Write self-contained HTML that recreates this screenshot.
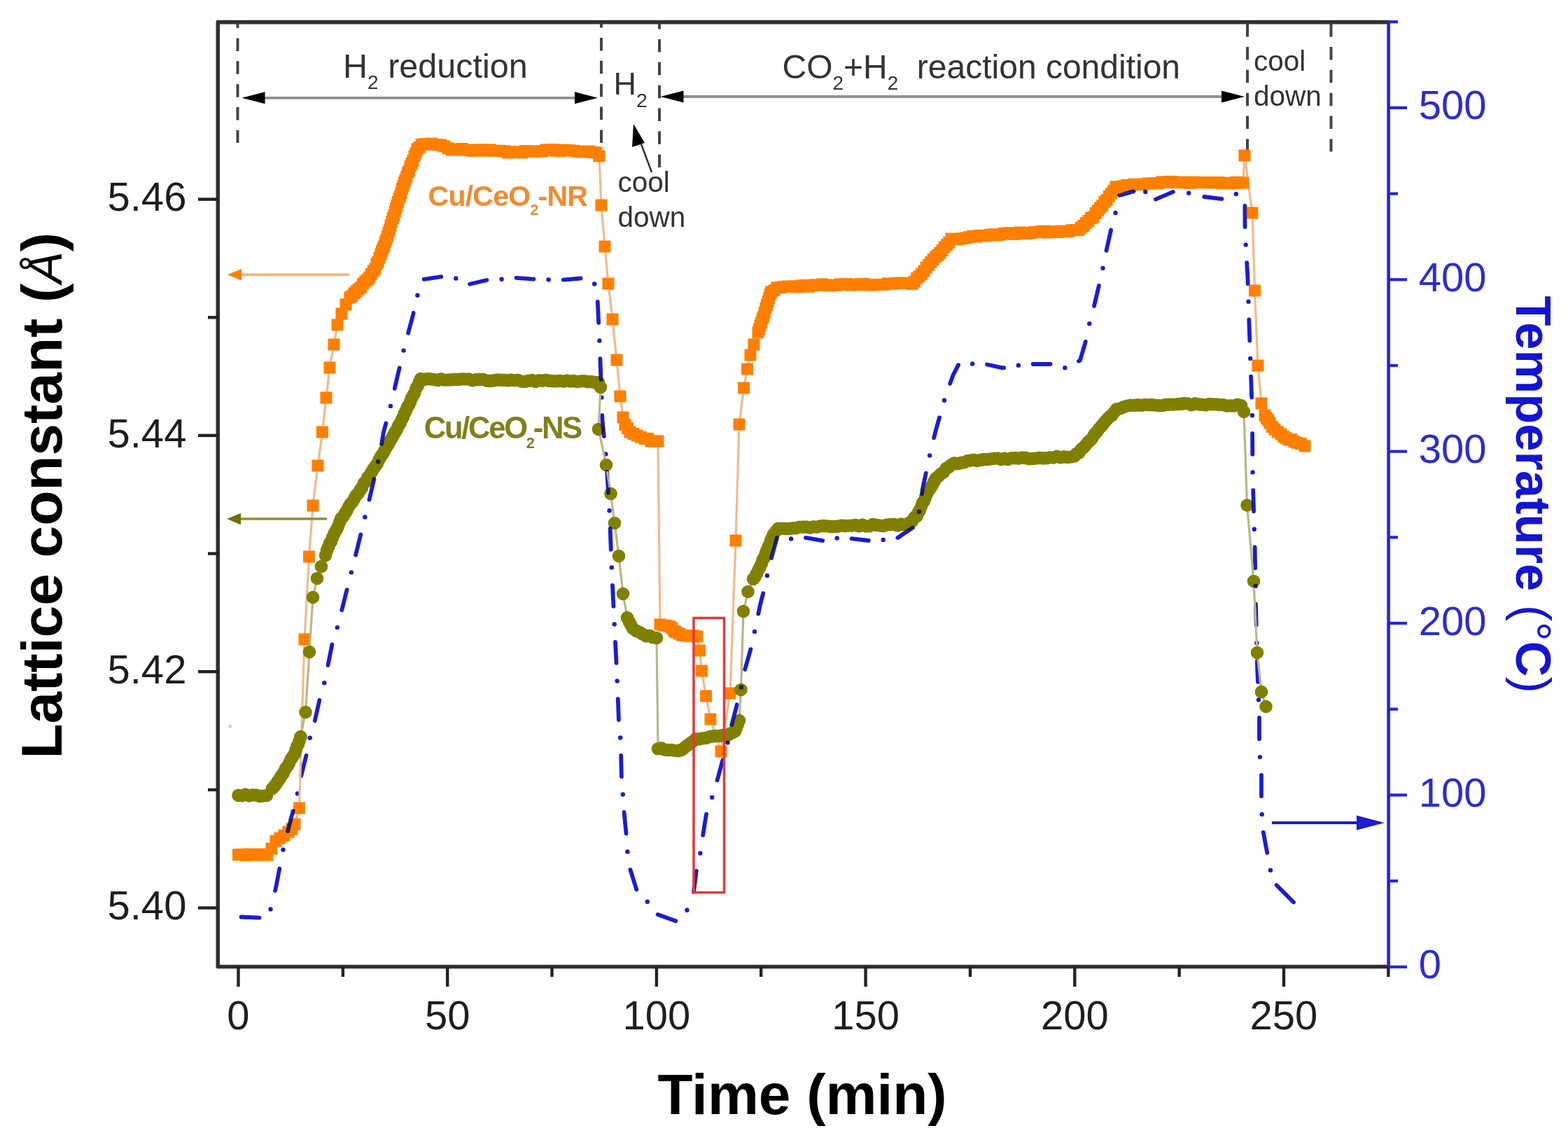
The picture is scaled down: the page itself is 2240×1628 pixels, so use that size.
<!DOCTYPE html>
<html><head><meta charset="utf-8"><title>Lattice constant vs time</title>
<style>html,body{margin:0;padding:0;background:#fff;}body{width:2240px;height:1628px;overflow:hidden;}svg{display:block;filter:blur(0.6px);}</style>
</head><body>
<svg width="2240" height="1628" viewBox="0 0 2240 1628"><rect width="2240" height="1628" fill="#ffffff"/><line x1="339.5" y1="33" x2="339.5" y2="204" stroke="#444" stroke-width="4" stroke-dasharray="18.5 14.4" stroke-dashoffset="11.5"/><line x1="859" y1="33" x2="859" y2="204" stroke="#444" stroke-width="4" stroke-dasharray="18.5 14.4" stroke-dashoffset="12"/><line x1="942" y1="33" x2="942" y2="241" stroke="#444" stroke-width="4" stroke-dasharray="18.5 14.4" stroke-dashoffset="10"/><line x1="1782" y1="34" x2="1782" y2="216.5" stroke="#444" stroke-width="4" stroke-dasharray="18.5 14.4" stroke-dashoffset="0"/><line x1="1901.5" y1="34" x2="1901.5" y2="216.5" stroke="#444" stroke-width="4" stroke-dasharray="18.5 14.4" stroke-dashoffset="0"/><line x1="376.5" y1="139.8" x2="823" y2="139.8" stroke="#8f8f8f" stroke-width="3.8"/><polygon points="854,139.8 821,131.3 821,148.3" fill="#000"/><polygon points="345.5,139.8 378.5,131.3 378.5,148.3" fill="#000"/><line x1="974.5" y1="138" x2="1747" y2="138" stroke="#8f8f8f" stroke-width="3.8"/><polygon points="1778,138 1745,129.5 1745,146.5" fill="#000"/><polygon points="943.5,138 976.5,129.5 976.5,146.5" fill="#000"/><line x1="931" y1="246" x2="912" y2="195" stroke="#333" stroke-width="2.5"/><polygon points="905,177 903,210 921,204" fill="#000"/><g fill="none" stroke="#1c1cd0" stroke-width="5.8" stroke-linecap="round" stroke-linejoin="round"><polyline points="344.6,1309.5 370.5,1310.6"/><polyline points="393.1,1271.9 394.6,1265.0 399.3,1240.5"/><polyline points="411.0,1187.0 418.7,1158.1"/><polyline points="430.2,1108.0 437.5,1078.9"/><polyline points="449.8,1029.2 456.4,999.8"/><polyline points="468.5,950.0 474.4,920.4"/><polyline points="488.3,871.3 495.6,842.2"/><polyline points="508.1,792.5 509.0,789.0 515.3,763.4"/><polyline points="527.5,713.6 534.4,684.3"/><polyline points="545.1,634.0 548.0,617.0 551.4,604.5"/><polyline points="563.8,554.8 566.0,545.0 570.7,525.5"/><polyline points="583.1,475.8 590.0,450.0 590.7,446.8"/><polyline points="605.6,398.8 630.3,395.1"/><polyline points="671.0,405.7 695.4,400.0"/><polyline points="737.6,396.8 762.4,398.6"/><polyline points="804.8,399.6 829.6,397.5"/><polyline points="853.8,431.0 855.2,460.9"/><polyline points="857.4,512.1 858.5,542.0"/><polyline points="860.3,593.2 860.5,600.0 862.8,623.0"/><polyline points="867.2,673.9 869.1,703.8"/><polyline points="871.7,754.9 872.8,784.8"/><polyline points="875.0,836.0 876.5,865.9"/><polyline points="879.0,917.0 880.5,946.9"/><polyline points="882.8,998.1 883.9,1028.0"/><polyline points="887.2,1079.0 887.9,1109.0"/><polyline points="891.6,1160.0 894.5,1190.3"/><polyline points="900.4,1241.9 909.3,1270.4"/><polyline points="939.7,1306.0 965.3,1315.3"/><polyline points="991.0,1273.9 994.8,1243.6"/><polyline points="1004.2,1192.7 1009.0,1162.7"/><polyline points="1024.6,1114.2 1032.5,1085.2"/><polyline points="1045.2,1035.4 1052.8,1006.3"/><polyline points="1064.2,956.0 1072.4,927.1"/><polyline points="1083.3,876.6 1085.7,865.0 1090.2,847.2"/><polyline points="1102.0,797.0 1110.0,768.1"/><polyline points="1151.0,767.9 1175.2,772.2"/><polyline points="1216.5,769.2 1240.9,772.0"/><polyline points="1282.4,768.0 1303.9,753.5"/><polyline points="1317.0,705.3 1318.0,698.0 1322.8,675.6"/><polyline points="1334.2,625.4 1337.0,614.0 1342.0,596.4"/><polyline points="1357.2,547.8 1361.6,535.7 1369.1,521.2"/><polyline points="1410.1,520.5 1432.0,525.4 1434.2,525.1"/><polyline points="1475.7,520.0 1500.6,520.0"/><polyline points="1541.0,515.7 1543.0,514.6 1550.8,487.9"/><polyline points="1563.0,437.0 1569.9,407.9"/><polyline points="1580.5,357.8 1587.1,328.5"/><polyline points="1599.4,279.0 1619.0,273.4 1619.1,273.4"/><polyline points="1651.0,284.7 1675.9,273.9"/><polyline points="1720.3,281.0 1745.4,284.2"/><polyline points="1778.4,294.0 1778.5,324.0"/><polyline points="1781.2,375.2 1782.4,395.7 1782.7,405.1"/><polyline points="1784.3,456.3 1785.0,476.8 1785.3,486.3"/><polyline points="1787.1,537.6 1788.1,567.5"/><polyline points="1789.1,618.8 1789.3,648.8"/><polyline points="1790.2,700.1 1791.1,730.1"/><polyline points="1792.6,781.3 1792.6,782.0 1793.1,811.3"/><polyline points="1794.0,862.6 1794.7,892.6"/><polyline points="1795.9,943.8 1796.0,950.0 1797.0,973.8"/><polyline points="1799.0,1025.0 1799.0,1055.3"/><polyline points="1802.0,1106.8 1802.0,1137.1"/><polyline points="1804.8,1188.6 1810.2,1217.8"/><polyline points="1823.6,1264.0 1848.0,1288.5"/></g><g fill="#1c1cd0"><circle cx="386.5" cy="1298.4" r="3.2"/><circle cx="404.5" cy="1213.5" r="3.2"/><circle cx="425.0" cy="1133.2" r="3.2"/><circle cx="442.7" cy="1053.7" r="3.2"/><circle cx="463.3" cy="975.3" r="3.2"/><circle cx="481.8" cy="896.1" r="3.2"/><circle cx="501.8" cy="817.4" r="3.2"/><circle cx="521.4" cy="738.5" r="3.2"/><circle cx="540.3" cy="659.3" r="3.2"/><circle cx="558.0" cy="579.9" r="3.2"/><circle cx="576.6" cy="500.6" r="3.2"/><circle cx="596.4" cy="421.8" r="3.2"/><circle cx="651.3" cy="397.5" r="3.2"/><circle cx="716.6" cy="398.8" r="3.2"/><circle cx="783.6" cy="399.5" r="3.2"/><circle cx="849.2" cy="405.5" r="3.2"/><circle cx="856.4" cy="486.5" r="3.2"/><circle cx="859.4" cy="567.6" r="3.2"/><circle cx="865.4" cy="648.4" r="3.2"/><circle cx="870.6" cy="729.3" r="3.2"/><circle cx="873.8" cy="810.4" r="3.2"/><circle cx="877.7" cy="891.5" r="3.2"/><circle cx="881.7" cy="972.5" r="3.2"/><circle cx="886.2" cy="1053.5" r="3.2"/><circle cx="889.8" cy="1134.5" r="3.2"/><circle cx="896.4" cy="1216.3" r="3.2"/><circle cx="924.8" cy="1287.8" r="3.2"/><circle cx="981.4" cy="1299.7" r="3.2"/><circle cx="1000.4" cy="1218.5" r="3.2"/><circle cx="1017.3" cy="1138.7" r="3.2"/><circle cx="1039.5" cy="1060.6" r="3.2"/><circle cx="1058.9" cy="981.3" r="3.2"/><circle cx="1078.0" cy="901.9" r="3.2"/><circle cx="1095.9" cy="822.0" r="3.2"/><circle cx="1130.1" cy="769.4" r="3.2"/><circle cx="1195.7" cy="768.5" r="3.2"/><circle cx="1261.7" cy="770.9" r="3.2"/><circle cx="1313.0" cy="730.8" r="3.2"/><circle cx="1328.2" cy="650.4" r="3.2"/><circle cx="1349.0" cy="571.8" r="3.2"/><circle cx="1389.2" cy="519.5" r="3.2"/><circle cx="1454.9" cy="521.7" r="3.2"/><circle cx="1521.3" cy="525.3" r="3.2"/><circle cx="1556.3" cy="462.2" r="3.2"/><circle cx="1575.5" cy="382.9" r="3.2"/><circle cx="1593.5" cy="303.9" r="3.2"/><circle cx="1636.3" cy="274.0" r="3.2"/><circle cx="1698.2" cy="275.7" r="3.2"/><circle cx="1765.8" cy="277.0" r="3.2"/><circle cx="1779.7" cy="349.6" r="3.2"/><circle cx="1783.5" cy="430.7" r="3.2"/><circle cx="1786.2" cy="511.9" r="3.2"/><circle cx="1788.9" cy="593.2" r="3.2"/><circle cx="1789.5" cy="674.4" r="3.2"/><circle cx="1791.8" cy="755.7" r="3.2"/><circle cx="1793.6" cy="836.9" r="3.2"/><circle cx="1795.3" cy="918.2" r="3.2"/><circle cx="1798.0" cy="999.4" r="3.2"/><circle cx="1799.9" cy="1081.1" r="3.2"/><circle cx="1802.7" cy="1162.9" r="3.2"/><circle cx="1815.0" cy="1242.7" r="3.2"/></g><polyline points="340.5,1220.6 345.7,1220.2 350.9,1221.4 356.1,1220.0 361.2,1221.1 366.4,1220.7 371.6,1219.9 376.8,1221.0 382.0,1221.0 388.0,1212.0 394.0,1201.0 400.0,1197.0 406.0,1193.0 412.0,1188.0 417.0,1184.0 421.0,1177.0 427.5,1154.0 435.0,913.0 441.5,795.0 447.0,722.0 454.0,665.0 460.5,617.0 466.0,568.0 471.0,525.0 477.0,492.0 482.0,464.0 488.0,448.0 494.0,435.0 500.0,424.9 503.0,422.8 506.0,419.0 509.0,416.0 512.2,413.2 515.4,410.6 518.6,405.3 521.8,401.9 525.0,399.3 527.8,396.1 530.5,391.2 533.2,386.8 536.0,384.1 538.0,377.2 540.0,374.4 542.0,368.2 544.0,363.1 545.6,358.7 547.2,354.7 548.8,351.6 550.4,345.6 552.0,342.2 553.5,337.6 555.0,332.2 556.5,327.9 558.0,322.0 559.7,316.6 561.3,311.6 563.0,307.4 564.3,302.2 565.7,297.2 567.0,293.2 568.5,288.4 570.0,283.5 571.5,280.2 573.0,275.5 574.5,269.6 576.0,265.7 577.5,260.8 579.0,256.9 580.8,252.2 582.6,246.7 584.4,244.0 586.2,237.5 588.0,233.8 590.0,229.6 592.0,223.2 594.0,219.0 596.0,212.9 599.0,210.4 602.0,206.6 607.0,205.7 612.0,205.9 616.5,205.1 621.0,206.5 625.5,206.7 630.0,207.2 635.0,208.9 640.0,211.8 645.0,214.1 650.0,213.1 655.0,213.8 660.0,212.5 665.0,214.2 670.0,214.3 675.0,215.3 680.0,215.0 685.0,213.9 690.0,214.4 695.0,215.2 700.0,213.9 705.2,215.4 710.3,215.2 715.5,215.6 720.7,215.9 725.8,218.1 731.0,217.1 735.8,217.1 740.7,217.1 745.5,217.9 750.3,215.7 755.2,216.2 760.0,216.1 765.0,216.6 770.0,216.1 775.0,215.9 780.0,214.1 785.0,214.1 790.0,213.7 795.0,215.3 800.0,215.8 805.0,214.2 810.0,214.6 815.0,215.0 820.0,215.4 825.3,216.3 830.7,216.9 836.0,216.4 841.3,216.1 846.7,217.5 852.0,218.0 856.0,223.0 859.0,293.0 864.0,352.0 869.0,405.0 875.0,456.0 881.0,514.0 886.0,566.0 890.0,596.0 893.0,606.7 896.5,611.7 900.0,617.1 905.0,619.5 910.0,622.0 915.5,624.3 921.0,626.4 925.5,626.4 930.0,630.0 935.0,630.2 940.0,630.0 943.0,891.9 947.7,893.0 952.3,893.4 957.0,894.8 960.0,897.0 963.0,901.3 966.0,902.9 970.5,905.0 975.0,907.3 980.5,907.7 986.0,908.6 991.0,907.9 996.0,909.0 999.5,929.0 1002.5,958.0 1008.5,994.0 1015.0,1027.0 1030.0,1073.0 1043.0,990.0 1051.0,772.0 1056.0,606.0 1062.5,554.0 1067.5,527.0 1072.0,507.0 1077.0,492.0 1083.0,474.8 1084.6,470.2 1086.1,465.0 1087.7,460.7 1089.3,454.9 1090.9,451.9 1092.4,446.3 1094.0,440.2 1095.6,435.4 1097.2,430.6 1098.8,425.7 1100.4,420.1 1102.0,416.8 1106.0,414.7 1110.0,410.9 1115.0,410.7 1120.0,409.4 1125.0,409.1 1130.0,409.4 1135.0,408.9 1140.0,409.9 1145.0,408.0 1150.0,407.4 1155.0,409.3 1160.0,408.0 1165.0,406.8 1170.0,407.4 1175.0,405.9 1179.9,407.0 1184.8,408.0 1189.8,407.6 1194.7,407.2 1199.6,406.0 1204.5,406.2 1209.5,405.7 1214.4,407.0 1219.3,406.4 1224.2,406.9 1229.2,405.7 1234.1,405.4 1239.0,406.7 1243.9,407.1 1248.8,406.7 1253.8,406.5 1258.7,406.5 1263.6,406.2 1268.5,404.9 1273.5,405.5 1278.4,405.0 1283.3,404.2 1288.2,404.1 1293.2,404.6 1298.1,404.5 1303.0,405.5 1306.4,402.3 1309.8,397.4 1313.1,394.8 1316.5,391.2 1319.9,387.3 1323.2,382.2 1326.6,378.1 1330.0,374.3 1333.2,370.6 1336.4,367.0 1339.7,364.3 1342.9,361.3 1346.1,357.5 1349.3,353.0 1352.6,349.7 1355.8,346.4 1359.0,341.0 1364.1,341.7 1369.2,341.7 1374.3,340.7 1379.4,339.9 1384.6,338.6 1389.7,337.2 1394.8,338.0 1399.9,336.3 1405.0,336.7 1409.8,336.8 1414.6,335.2 1419.4,334.9 1424.2,335.9 1429.0,335.0 1433.8,333.4 1438.6,333.0 1443.4,332.8 1448.2,334.3 1453.0,333.7 1457.9,331.9 1462.8,333.3 1467.7,333.5 1472.6,332.5 1477.4,331.5 1482.3,331.8 1487.2,330.6 1492.1,330.1 1497.0,332.1 1501.9,331.1 1506.8,330.6 1511.7,331.4 1516.6,330.0 1521.4,330.8 1526.3,330.4 1531.2,328.8 1536.1,328.6 1541.0,328.5 1544.5,325.0 1548.0,322.5 1551.5,318.4 1555.0,315.5 1558.5,311.4 1562.0,310.0 1565.2,304.5 1568.4,300.7 1571.6,296.9 1574.8,293.6 1578.0,288.3 1581.2,285.4 1584.4,280.3 1587.6,276.3 1590.8,272.2 1594.0,266.8 1599.2,267.1 1604.4,265.6 1609.6,264.4 1614.8,265.5 1620.0,263.2 1625.0,263.5 1630.0,263.7 1635.0,262.9 1640.0,262.0 1645.0,262.0 1650.0,261.7 1655.0,261.9 1660.0,259.9 1665.0,260.5 1670.0,259.4 1675.0,259.5 1680.1,260.7 1685.1,260.2 1690.2,260.3 1695.2,260.9 1700.3,261.3 1705.3,260.2 1710.4,260.7 1715.4,260.4 1720.5,260.5 1725.5,261.0 1730.6,260.5 1735.6,260.7 1740.7,260.6 1745.7,261.8 1750.8,261.2 1755.8,261.7 1760.9,261.9 1765.9,260.3 1771.0,261.1 1776.0,261.0 1778.0,222.0 1789.0,304.0 1792.5,415.0 1797.0,522.0 1802.0,576.0 1807.0,593.1 1809.3,597.1 1811.7,599.8 1814.0,604.1 1817.5,609.4 1821.0,613.0 1825.5,616.9 1830.0,620.0 1833.7,623.4 1837.3,625.7 1841.0,628.0 1845.0,627.8 1849.0,630.9 1853.0,632.4 1858.5,633.6 1864.0,637.0" fill="none" stroke="#f5b98a" stroke-width="3.2"/><g fill="#ff7f00"><rect x="332.0" y="1212.1" width="17" height="17"/><rect x="337.2" y="1211.7" width="17" height="17"/><rect x="342.4" y="1212.9" width="17" height="17"/><rect x="347.6" y="1211.5" width="17" height="17"/><rect x="352.8" y="1212.6" width="17" height="17"/><rect x="357.9" y="1212.2" width="17" height="17"/><rect x="363.1" y="1211.4" width="17" height="17"/><rect x="368.3" y="1212.5" width="17" height="17"/><rect x="373.5" y="1212.5" width="17" height="17"/><rect x="379.5" y="1203.5" width="17" height="17"/><rect x="385.5" y="1192.5" width="17" height="17"/><rect x="391.5" y="1188.5" width="17" height="17"/><rect x="397.5" y="1184.5" width="17" height="17"/><rect x="403.5" y="1179.5" width="17" height="17"/><rect x="408.5" y="1175.5" width="17" height="17"/><rect x="412.5" y="1168.5" width="17" height="17"/><rect x="419.0" y="1145.5" width="17" height="17"/><rect x="426.5" y="904.5" width="17" height="17"/><rect x="433.0" y="786.5" width="17" height="17"/><rect x="438.5" y="713.5" width="17" height="17"/><rect x="445.5" y="656.5" width="17" height="17"/><rect x="452.0" y="608.5" width="17" height="17"/><rect x="457.5" y="559.5" width="17" height="17"/><rect x="462.5" y="516.5" width="17" height="17"/><rect x="468.5" y="483.5" width="17" height="17"/><rect x="473.5" y="455.5" width="17" height="17"/><rect x="479.5" y="439.5" width="17" height="17"/><rect x="485.5" y="426.5" width="17" height="17"/><rect x="491.5" y="416.4" width="17" height="17"/><rect x="494.5" y="414.3" width="17" height="17"/><rect x="497.5" y="410.5" width="17" height="17"/><rect x="500.5" y="407.5" width="17" height="17"/><rect x="503.7" y="404.7" width="17" height="17"/><rect x="506.9" y="402.1" width="17" height="17"/><rect x="510.1" y="396.8" width="17" height="17"/><rect x="513.3" y="393.4" width="17" height="17"/><rect x="516.5" y="390.8" width="17" height="17"/><rect x="519.2" y="387.6" width="17" height="17"/><rect x="522.0" y="382.7" width="17" height="17"/><rect x="524.8" y="378.3" width="17" height="17"/><rect x="527.5" y="375.6" width="17" height="17"/><rect x="529.5" y="368.7" width="17" height="17"/><rect x="531.5" y="365.9" width="17" height="17"/><rect x="533.5" y="359.7" width="17" height="17"/><rect x="535.5" y="354.6" width="17" height="17"/><rect x="537.1" y="350.2" width="17" height="17"/><rect x="538.7" y="346.2" width="17" height="17"/><rect x="540.3" y="343.1" width="17" height="17"/><rect x="541.9" y="337.1" width="17" height="17"/><rect x="543.5" y="333.7" width="17" height="17"/><rect x="545.0" y="329.1" width="17" height="17"/><rect x="546.5" y="323.7" width="17" height="17"/><rect x="548.0" y="319.4" width="17" height="17"/><rect x="549.5" y="313.5" width="17" height="17"/><rect x="551.2" y="308.1" width="17" height="17"/><rect x="552.8" y="303.1" width="17" height="17"/><rect x="554.5" y="298.9" width="17" height="17"/><rect x="555.8" y="293.7" width="17" height="17"/><rect x="557.2" y="288.7" width="17" height="17"/><rect x="558.5" y="284.7" width="17" height="17"/><rect x="560.0" y="279.9" width="17" height="17"/><rect x="561.5" y="275.0" width="17" height="17"/><rect x="563.0" y="271.7" width="17" height="17"/><rect x="564.5" y="267.0" width="17" height="17"/><rect x="566.0" y="261.1" width="17" height="17"/><rect x="567.5" y="257.2" width="17" height="17"/><rect x="569.0" y="252.3" width="17" height="17"/><rect x="570.5" y="248.4" width="17" height="17"/><rect x="572.3" y="243.7" width="17" height="17"/><rect x="574.1" y="238.2" width="17" height="17"/><rect x="575.9" y="235.5" width="17" height="17"/><rect x="577.7" y="229.0" width="17" height="17"/><rect x="579.5" y="225.3" width="17" height="17"/><rect x="581.5" y="221.1" width="17" height="17"/><rect x="583.5" y="214.7" width="17" height="17"/><rect x="585.5" y="210.5" width="17" height="17"/><rect x="587.5" y="204.4" width="17" height="17"/><rect x="590.5" y="201.9" width="17" height="17"/><rect x="593.5" y="198.1" width="17" height="17"/><rect x="598.5" y="197.2" width="17" height="17"/><rect x="603.5" y="197.4" width="17" height="17"/><rect x="608.0" y="196.6" width="17" height="17"/><rect x="612.5" y="198.0" width="17" height="17"/><rect x="617.0" y="198.2" width="17" height="17"/><rect x="621.5" y="198.7" width="17" height="17"/><rect x="626.5" y="200.4" width="17" height="17"/><rect x="631.5" y="203.3" width="17" height="17"/><rect x="636.5" y="205.6" width="17" height="17"/><rect x="641.5" y="204.6" width="17" height="17"/><rect x="646.5" y="205.3" width="17" height="17"/><rect x="651.5" y="204.0" width="17" height="17"/><rect x="656.5" y="205.7" width="17" height="17"/><rect x="661.5" y="205.8" width="17" height="17"/><rect x="666.5" y="206.8" width="17" height="17"/><rect x="671.5" y="206.5" width="17" height="17"/><rect x="676.5" y="205.4" width="17" height="17"/><rect x="681.5" y="205.9" width="17" height="17"/><rect x="686.5" y="206.7" width="17" height="17"/><rect x="691.5" y="205.4" width="17" height="17"/><rect x="696.7" y="206.9" width="17" height="17"/><rect x="701.8" y="206.7" width="17" height="17"/><rect x="707.0" y="207.1" width="17" height="17"/><rect x="712.2" y="207.4" width="17" height="17"/><rect x="717.3" y="209.6" width="17" height="17"/><rect x="722.5" y="208.6" width="17" height="17"/><rect x="727.3" y="208.6" width="17" height="17"/><rect x="732.2" y="208.6" width="17" height="17"/><rect x="737.0" y="209.4" width="17" height="17"/><rect x="741.8" y="207.2" width="17" height="17"/><rect x="746.7" y="207.7" width="17" height="17"/><rect x="751.5" y="207.6" width="17" height="17"/><rect x="756.5" y="208.1" width="17" height="17"/><rect x="761.5" y="207.6" width="17" height="17"/><rect x="766.5" y="207.4" width="17" height="17"/><rect x="771.5" y="205.6" width="17" height="17"/><rect x="776.5" y="205.6" width="17" height="17"/><rect x="781.5" y="205.2" width="17" height="17"/><rect x="786.5" y="206.8" width="17" height="17"/><rect x="791.5" y="207.3" width="17" height="17"/><rect x="796.5" y="205.7" width="17" height="17"/><rect x="801.5" y="206.1" width="17" height="17"/><rect x="806.5" y="206.5" width="17" height="17"/><rect x="811.5" y="206.9" width="17" height="17"/><rect x="816.8" y="207.8" width="17" height="17"/><rect x="822.2" y="208.4" width="17" height="17"/><rect x="827.5" y="207.9" width="17" height="17"/><rect x="832.8" y="207.6" width="17" height="17"/><rect x="838.2" y="209.0" width="17" height="17"/><rect x="843.5" y="209.5" width="17" height="17"/><rect x="847.5" y="214.5" width="17" height="17"/><rect x="850.5" y="284.5" width="17" height="17"/><rect x="855.5" y="343.5" width="17" height="17"/><rect x="860.5" y="396.5" width="17" height="17"/><rect x="866.5" y="447.5" width="17" height="17"/><rect x="872.5" y="505.5" width="17" height="17"/><rect x="877.5" y="557.5" width="17" height="17"/><rect x="881.5" y="587.5" width="17" height="17"/><rect x="884.5" y="598.2" width="17" height="17"/><rect x="888.0" y="603.2" width="17" height="17"/><rect x="891.5" y="608.6" width="17" height="17"/><rect x="896.5" y="611.0" width="17" height="17"/><rect x="901.5" y="613.5" width="17" height="17"/><rect x="907.0" y="615.8" width="17" height="17"/><rect x="912.5" y="617.9" width="17" height="17"/><rect x="917.0" y="617.9" width="17" height="17"/><rect x="921.5" y="621.5" width="17" height="17"/><rect x="926.5" y="621.7" width="17" height="17"/><rect x="931.5" y="621.5" width="17" height="17"/><rect x="934.5" y="883.4" width="17" height="17"/><rect x="939.2" y="884.5" width="17" height="17"/><rect x="943.8" y="884.9" width="17" height="17"/><rect x="948.5" y="886.3" width="17" height="17"/><rect x="951.5" y="888.5" width="17" height="17"/><rect x="954.5" y="892.8" width="17" height="17"/><rect x="957.5" y="894.4" width="17" height="17"/><rect x="962.0" y="896.5" width="17" height="17"/><rect x="966.5" y="898.8" width="17" height="17"/><rect x="972.0" y="899.2" width="17" height="17"/><rect x="977.5" y="900.1" width="17" height="17"/><rect x="982.5" y="899.4" width="17" height="17"/><rect x="987.5" y="900.5" width="17" height="17"/><rect x="991.0" y="920.5" width="17" height="17"/><rect x="994.0" y="949.5" width="17" height="17"/><rect x="1000.0" y="985.5" width="17" height="17"/><rect x="1006.5" y="1018.5" width="17" height="17"/><rect x="1021.5" y="1064.5" width="17" height="17"/><rect x="1034.5" y="981.5" width="17" height="17"/><rect x="1042.5" y="763.5" width="17" height="17"/><rect x="1047.5" y="597.5" width="17" height="17"/><rect x="1054.0" y="545.5" width="17" height="17"/><rect x="1059.0" y="518.5" width="17" height="17"/><rect x="1063.5" y="498.5" width="17" height="17"/><rect x="1068.5" y="483.5" width="17" height="17"/><rect x="1074.5" y="466.3" width="17" height="17"/><rect x="1076.1" y="461.7" width="17" height="17"/><rect x="1077.6" y="456.5" width="17" height="17"/><rect x="1079.2" y="452.2" width="17" height="17"/><rect x="1080.8" y="446.4" width="17" height="17"/><rect x="1082.4" y="443.4" width="17" height="17"/><rect x="1083.9" y="437.8" width="17" height="17"/><rect x="1085.5" y="431.7" width="17" height="17"/><rect x="1087.1" y="426.9" width="17" height="17"/><rect x="1088.7" y="422.1" width="17" height="17"/><rect x="1090.3" y="417.2" width="17" height="17"/><rect x="1091.9" y="411.6" width="17" height="17"/><rect x="1093.5" y="408.3" width="17" height="17"/><rect x="1097.5" y="406.2" width="17" height="17"/><rect x="1101.5" y="402.4" width="17" height="17"/><rect x="1106.5" y="402.2" width="17" height="17"/><rect x="1111.5" y="400.9" width="17" height="17"/><rect x="1116.5" y="400.6" width="17" height="17"/><rect x="1121.5" y="400.9" width="17" height="17"/><rect x="1126.5" y="400.4" width="17" height="17"/><rect x="1131.5" y="401.4" width="17" height="17"/><rect x="1136.5" y="399.5" width="17" height="17"/><rect x="1141.5" y="398.9" width="17" height="17"/><rect x="1146.5" y="400.8" width="17" height="17"/><rect x="1151.5" y="399.5" width="17" height="17"/><rect x="1156.5" y="398.3" width="17" height="17"/><rect x="1161.5" y="398.9" width="17" height="17"/><rect x="1166.5" y="397.4" width="17" height="17"/><rect x="1171.4" y="398.5" width="17" height="17"/><rect x="1176.3" y="399.5" width="17" height="17"/><rect x="1181.3" y="399.1" width="17" height="17"/><rect x="1186.2" y="398.7" width="17" height="17"/><rect x="1191.1" y="397.5" width="17" height="17"/><rect x="1196.0" y="397.7" width="17" height="17"/><rect x="1201.0" y="397.2" width="17" height="17"/><rect x="1205.9" y="398.5" width="17" height="17"/><rect x="1210.8" y="397.9" width="17" height="17"/><rect x="1215.7" y="398.4" width="17" height="17"/><rect x="1220.7" y="397.2" width="17" height="17"/><rect x="1225.6" y="396.9" width="17" height="17"/><rect x="1230.5" y="398.2" width="17" height="17"/><rect x="1235.4" y="398.6" width="17" height="17"/><rect x="1240.3" y="398.2" width="17" height="17"/><rect x="1245.3" y="398.0" width="17" height="17"/><rect x="1250.2" y="398.0" width="17" height="17"/><rect x="1255.1" y="397.7" width="17" height="17"/><rect x="1260.0" y="396.4" width="17" height="17"/><rect x="1265.0" y="397.0" width="17" height="17"/><rect x="1269.9" y="396.5" width="17" height="17"/><rect x="1274.8" y="395.7" width="17" height="17"/><rect x="1279.7" y="395.6" width="17" height="17"/><rect x="1284.7" y="396.1" width="17" height="17"/><rect x="1289.6" y="396.0" width="17" height="17"/><rect x="1294.5" y="397.0" width="17" height="17"/><rect x="1297.9" y="393.8" width="17" height="17"/><rect x="1301.2" y="388.9" width="17" height="17"/><rect x="1304.6" y="386.3" width="17" height="17"/><rect x="1308.0" y="382.7" width="17" height="17"/><rect x="1311.4" y="378.8" width="17" height="17"/><rect x="1314.8" y="373.7" width="17" height="17"/><rect x="1318.1" y="369.6" width="17" height="17"/><rect x="1321.5" y="365.8" width="17" height="17"/><rect x="1324.7" y="362.1" width="17" height="17"/><rect x="1327.9" y="358.5" width="17" height="17"/><rect x="1331.2" y="355.8" width="17" height="17"/><rect x="1334.4" y="352.8" width="17" height="17"/><rect x="1337.6" y="349.0" width="17" height="17"/><rect x="1340.8" y="344.5" width="17" height="17"/><rect x="1344.1" y="341.2" width="17" height="17"/><rect x="1347.3" y="337.9" width="17" height="17"/><rect x="1350.5" y="332.5" width="17" height="17"/><rect x="1355.6" y="333.2" width="17" height="17"/><rect x="1360.7" y="333.2" width="17" height="17"/><rect x="1365.8" y="332.2" width="17" height="17"/><rect x="1370.9" y="331.4" width="17" height="17"/><rect x="1376.1" y="330.1" width="17" height="17"/><rect x="1381.2" y="328.7" width="17" height="17"/><rect x="1386.3" y="329.5" width="17" height="17"/><rect x="1391.4" y="327.8" width="17" height="17"/><rect x="1396.5" y="328.2" width="17" height="17"/><rect x="1401.3" y="328.3" width="17" height="17"/><rect x="1406.1" y="326.7" width="17" height="17"/><rect x="1410.9" y="326.4" width="17" height="17"/><rect x="1415.7" y="327.4" width="17" height="17"/><rect x="1420.5" y="326.5" width="17" height="17"/><rect x="1425.3" y="324.9" width="17" height="17"/><rect x="1430.1" y="324.5" width="17" height="17"/><rect x="1434.9" y="324.3" width="17" height="17"/><rect x="1439.7" y="325.8" width="17" height="17"/><rect x="1444.5" y="325.2" width="17" height="17"/><rect x="1449.4" y="323.4" width="17" height="17"/><rect x="1454.3" y="324.8" width="17" height="17"/><rect x="1459.2" y="325.0" width="17" height="17"/><rect x="1464.1" y="324.0" width="17" height="17"/><rect x="1468.9" y="323.0" width="17" height="17"/><rect x="1473.8" y="323.3" width="17" height="17"/><rect x="1478.7" y="322.1" width="17" height="17"/><rect x="1483.6" y="321.6" width="17" height="17"/><rect x="1488.5" y="323.6" width="17" height="17"/><rect x="1493.4" y="322.6" width="17" height="17"/><rect x="1498.3" y="322.1" width="17" height="17"/><rect x="1503.2" y="322.9" width="17" height="17"/><rect x="1508.1" y="321.5" width="17" height="17"/><rect x="1512.9" y="322.3" width="17" height="17"/><rect x="1517.8" y="321.9" width="17" height="17"/><rect x="1522.7" y="320.3" width="17" height="17"/><rect x="1527.6" y="320.1" width="17" height="17"/><rect x="1532.5" y="320.0" width="17" height="17"/><rect x="1536.0" y="316.5" width="17" height="17"/><rect x="1539.5" y="314.0" width="17" height="17"/><rect x="1543.0" y="309.9" width="17" height="17"/><rect x="1546.5" y="307.0" width="17" height="17"/><rect x="1550.0" y="302.9" width="17" height="17"/><rect x="1553.5" y="301.5" width="17" height="17"/><rect x="1556.7" y="296.0" width="17" height="17"/><rect x="1559.9" y="292.2" width="17" height="17"/><rect x="1563.1" y="288.4" width="17" height="17"/><rect x="1566.3" y="285.1" width="17" height="17"/><rect x="1569.5" y="279.8" width="17" height="17"/><rect x="1572.7" y="276.9" width="17" height="17"/><rect x="1575.9" y="271.8" width="17" height="17"/><rect x="1579.1" y="267.8" width="17" height="17"/><rect x="1582.3" y="263.7" width="17" height="17"/><rect x="1585.5" y="258.3" width="17" height="17"/><rect x="1590.7" y="258.6" width="17" height="17"/><rect x="1595.9" y="257.1" width="17" height="17"/><rect x="1601.1" y="255.9" width="17" height="17"/><rect x="1606.3" y="257.0" width="17" height="17"/><rect x="1611.5" y="254.7" width="17" height="17"/><rect x="1616.5" y="255.0" width="17" height="17"/><rect x="1621.5" y="255.2" width="17" height="17"/><rect x="1626.5" y="254.4" width="17" height="17"/><rect x="1631.5" y="253.5" width="17" height="17"/><rect x="1636.5" y="253.5" width="17" height="17"/><rect x="1641.5" y="253.2" width="17" height="17"/><rect x="1646.5" y="253.4" width="17" height="17"/><rect x="1651.5" y="251.4" width="17" height="17"/><rect x="1656.5" y="252.0" width="17" height="17"/><rect x="1661.5" y="250.9" width="17" height="17"/><rect x="1666.5" y="251.0" width="17" height="17"/><rect x="1671.6" y="252.2" width="17" height="17"/><rect x="1676.6" y="251.7" width="17" height="17"/><rect x="1681.7" y="251.8" width="17" height="17"/><rect x="1686.7" y="252.4" width="17" height="17"/><rect x="1691.8" y="252.8" width="17" height="17"/><rect x="1696.8" y="251.7" width="17" height="17"/><rect x="1701.9" y="252.2" width="17" height="17"/><rect x="1706.9" y="251.9" width="17" height="17"/><rect x="1712.0" y="252.0" width="17" height="17"/><rect x="1717.0" y="252.5" width="17" height="17"/><rect x="1722.1" y="252.0" width="17" height="17"/><rect x="1727.1" y="252.2" width="17" height="17"/><rect x="1732.2" y="252.1" width="17" height="17"/><rect x="1737.2" y="253.3" width="17" height="17"/><rect x="1742.3" y="252.7" width="17" height="17"/><rect x="1747.3" y="253.2" width="17" height="17"/><rect x="1752.4" y="253.4" width="17" height="17"/><rect x="1757.4" y="251.8" width="17" height="17"/><rect x="1762.5" y="252.6" width="17" height="17"/><rect x="1767.5" y="252.5" width="17" height="17"/><rect x="1769.5" y="213.5" width="17" height="17"/><rect x="1780.5" y="295.5" width="17" height="17"/><rect x="1784.0" y="406.5" width="17" height="17"/><rect x="1788.5" y="513.5" width="17" height="17"/><rect x="1793.5" y="567.5" width="17" height="17"/><rect x="1798.5" y="584.6" width="17" height="17"/><rect x="1800.8" y="588.6" width="17" height="17"/><rect x="1803.2" y="591.3" width="17" height="17"/><rect x="1805.5" y="595.6" width="17" height="17"/><rect x="1809.0" y="600.9" width="17" height="17"/><rect x="1812.5" y="604.5" width="17" height="17"/><rect x="1817.0" y="608.4" width="17" height="17"/><rect x="1821.5" y="611.5" width="17" height="17"/><rect x="1825.2" y="614.9" width="17" height="17"/><rect x="1828.8" y="617.2" width="17" height="17"/><rect x="1832.5" y="619.5" width="17" height="17"/><rect x="1836.5" y="619.3" width="17" height="17"/><rect x="1840.5" y="622.4" width="17" height="17"/><rect x="1844.5" y="623.9" width="17" height="17"/><rect x="1850.0" y="625.1" width="17" height="17"/><rect x="1855.5" y="628.5" width="17" height="17"/></g><polyline points="340.5,1135.9 345.6,1136.2 350.6,1134.6 355.7,1136.5 360.8,1135.3 365.8,1135.6 370.9,1136.9 375.9,1136.7 381.0,1136.0 389.0,1126.2 391.8,1123.1 394.5,1119.5 397.2,1115.4 400.0,1111.3 402.6,1107.2 405.2,1103.7 407.8,1097.6 410.4,1094.5 413.0,1089.9 415.7,1084.2 418.3,1080.3 421.0,1076.3 422.7,1071.2 424.4,1065.4 426.1,1062.8 427.8,1057.5 429.5,1052.0 436.5,1017.0 442.0,931.0 447.0,853.0 453.0,826.0 459.0,809.0 465.0,793.1 467.0,786.1 469.0,781.4 471.0,775.9 473.1,773.2 475.1,767.4 477.2,762.6 479.2,758.8 481.3,755.5 483.4,750.8 485.4,744.9 487.5,740.2 490.2,737.9 492.9,732.9 495.6,729.1 498.2,723.5 500.9,719.3 503.6,716.7 506.3,711.9 509.0,707.0 511.7,704.8 514.4,699.9 517.2,696.1 519.9,690.1 522.6,687.7 525.3,681.6 528.1,679.3 530.8,674.1 533.5,669.6 536.2,665.8 538.9,662.3 541.6,656.3 544.2,651.6 546.9,648.2 549.6,643.1 552.3,638.4 555.0,634.2 557.4,629.5 559.8,625.5 562.1,621.4 564.5,617.0 566.9,613.7 569.2,608.2 571.6,604.4 574.0,599.2 576.0,595.3 578.0,590.1 580.0,586.3 582.0,581.3 584.0,578.7 586.0,573.9 588.0,568.6 590.0,564.9 592.2,561.2 594.4,554.5 596.6,551.4 598.8,545.6 601.0,541.0 605.9,541.9 610.8,541.0 615.6,541.4 620.5,542.0 625.4,542.8 630.2,541.4 635.1,542.7 640.0,542.5 645.0,542.4 650.0,541.9 655.0,541.9 660.0,541.3 665.0,541.5 670.0,541.5 675.0,543.2 680.0,542.1 685.0,541.9 690.0,541.8 695.0,543.7 700.0,543.9 705.0,543.5 710.0,542.6 715.0,542.6 720.0,542.8 725.0,543.2 730.0,542.6 735.0,543.3 740.0,542.9 745.0,544.7 750.0,544.8 755.0,543.8 760.0,543.1 765.0,544.9 770.0,543.4 775.0,543.6 780.0,542.8 785.0,543.8 790.0,544.2 795.0,544.4 800.0,543.8 805.0,544.7 810.0,543.6 815.0,544.4 820.0,544.1 825.0,545.0 830.0,544.2 835.0,544.3 840.0,545.1 845.0,545.1 850.0,546.1 855.0,546.0 858.0,553.0 855.0,613.0 866.0,664.0 872.5,705.0 878.0,747.0 884.0,794.0 890.0,848.0 896.0,882.1 898.7,887.6 901.3,892.4 904.0,897.5 908.7,900.9 913.3,902.7 918.0,905.6 923.0,908.4 928.0,907.7 933.0,910.3 938.0,911.0 940.0,1069.3 944.7,1068.3 949.4,1070.7 954.1,1071.2 958.9,1071.0 963.6,1071.7 968.3,1072.3 973.0,1071.1 976.3,1069.1 979.7,1066.0 983.0,1063.8 986.7,1061.1 990.3,1058.5 994.0,1055.2 998.8,1055.4 1003.7,1054.4 1008.5,1054.0 1013.3,1052.4 1018.2,1051.4 1023.0,1051.1 1028.0,1051.0 1033.0,1049.7 1038.0,1050.8 1042.0,1048.1 1046.0,1046.3 1050.0,1044.3 1052.0,1039.4 1054.0,1034.0 1056.0,1029.0 1058.5,985.0 1062.0,873.0 1068.5,845.0 1076.0,826.8 1078.5,824.0 1081.0,819.1 1083.5,813.8 1086.0,809.1 1087.9,805.0 1089.8,799.2 1091.7,796.4 1093.6,790.8 1095.5,786.0 1097.4,781.4 1099.3,777.6 1101.2,771.3 1103.1,767.6 1105.0,763.1 1108.5,758.5 1112.0,754.7 1117.0,754.7 1122.0,755.0 1127.0,755.0 1132.0,754.4 1137.0,754.2 1142.0,752.7 1147.0,752.6 1152.0,752.6 1157.0,753.6 1162.0,752.3 1167.0,752.7 1172.0,751.2 1177.0,751.1 1182.0,751.3 1187.0,752.1 1192.0,751.9 1197.0,751.6 1202.0,750.5 1207.0,750.9 1212.0,750.7 1217.0,750.6 1222.0,749.7 1227.0,751.4 1232.0,749.6 1237.0,751.4 1242.0,751.2 1247.0,748.9 1252.0,749.8 1257.0,750.6 1262.0,750.9 1267.0,749.5 1272.0,749.0 1277.0,748.7 1282.0,750.4 1287.0,748.5 1292.0,749.3 1297.0,748.1 1300.2,745.8 1303.5,743.6 1306.8,738.4 1310.0,736.8 1312.0,731.7 1314.0,728.4 1316.0,723.6 1318.0,718.2 1320.0,715.5 1322.0,710.3 1324.0,704.9 1326.6,700.4 1329.2,697.2 1331.8,692.7 1334.4,687.9 1337.0,683.1 1340.7,680.1 1344.3,676.6 1348.0,674.3 1351.7,668.8 1355.3,667.1 1359.0,663.8 1363.6,661.2 1368.1,662.3 1372.7,660.9 1377.3,660.5 1381.9,658.2 1386.4,657.6 1391.0,656.7 1395.9,658.0 1400.8,656.8 1405.7,656.1 1410.6,656.0 1415.5,655.5 1420.4,654.7 1425.3,654.6 1430.2,656.2 1435.1,654.7 1440.0,656.0 1445.0,654.2 1450.0,654.1 1455.0,654.6 1460.0,653.6 1465.0,653.9 1470.0,655.1 1475.0,654.8 1480.0,654.5 1485.0,653.9 1490.0,654.4 1495.0,654.3 1500.0,653.2 1505.0,653.5 1510.0,651.7 1515.0,653.2 1520.0,652.4 1525.0,652.9 1530.0,652.5 1535.0,651.5 1538.2,647.7 1541.4,646.6 1544.6,641.5 1547.8,639.1 1551.0,635.6 1554.1,631.7 1557.3,628.9 1560.4,625.6 1563.6,620.0 1566.7,617.1 1569.9,612.4 1573.0,609.1 1576.1,605.3 1579.3,601.3 1582.4,597.9 1585.6,594.6 1588.7,592.8 1591.9,588.4 1595.0,584.3 1600.0,583.5 1605.0,581.2 1610.1,579.7 1615.2,578.8 1620.3,578.8 1625.4,578.4 1630.6,578.8 1635.7,578.0 1640.8,578.2 1645.9,578.1 1651.0,578.7 1656.1,579.3 1661.2,578.8 1666.3,577.8 1671.4,577.6 1676.6,577.7 1681.7,577.2 1686.8,576.9 1691.9,576.1 1697.0,576.5 1702.1,578.3 1707.1,576.4 1712.2,577.4 1717.3,577.8 1722.3,578.5 1727.4,577.1 1732.5,577.4 1737.5,577.5 1742.6,578.0 1747.7,578.2 1752.7,579.6 1757.8,579.4 1762.9,579.6 1767.9,577.7 1773.0,579.0 1777.0,588.0 1781.5,721.5 1791.0,830.0 1796.0,932.0 1802.0,988.0 1808.5,1009.0" fill="none" stroke="#b8b884" stroke-width="3.2"/><g fill="#808000"><circle cx="340.5" cy="1135.9" r="9.3"/><circle cx="345.6" cy="1136.2" r="9.3"/><circle cx="350.6" cy="1134.6" r="9.3"/><circle cx="355.7" cy="1136.5" r="9.3"/><circle cx="360.8" cy="1135.3" r="9.3"/><circle cx="365.8" cy="1135.6" r="9.3"/><circle cx="370.9" cy="1136.9" r="9.3"/><circle cx="375.9" cy="1136.7" r="9.3"/><circle cx="381.0" cy="1136.0" r="9.3"/><circle cx="389.0" cy="1126.2" r="9.3"/><circle cx="391.8" cy="1123.1" r="9.3"/><circle cx="394.5" cy="1119.5" r="9.3"/><circle cx="397.2" cy="1115.4" r="9.3"/><circle cx="400.0" cy="1111.3" r="9.3"/><circle cx="402.6" cy="1107.2" r="9.3"/><circle cx="405.2" cy="1103.7" r="9.3"/><circle cx="407.8" cy="1097.6" r="9.3"/><circle cx="410.4" cy="1094.5" r="9.3"/><circle cx="413.0" cy="1089.9" r="9.3"/><circle cx="415.7" cy="1084.2" r="9.3"/><circle cx="418.3" cy="1080.3" r="9.3"/><circle cx="421.0" cy="1076.3" r="9.3"/><circle cx="422.7" cy="1071.2" r="9.3"/><circle cx="424.4" cy="1065.4" r="9.3"/><circle cx="426.1" cy="1062.8" r="9.3"/><circle cx="427.8" cy="1057.5" r="9.3"/><circle cx="429.5" cy="1052.0" r="9.3"/><circle cx="436.5" cy="1017.0" r="9.3"/><circle cx="442.0" cy="931.0" r="9.3"/><circle cx="447.0" cy="853.0" r="9.3"/><circle cx="453.0" cy="826.0" r="9.3"/><circle cx="459.0" cy="809.0" r="9.3"/><circle cx="465.0" cy="793.1" r="9.3"/><circle cx="467.0" cy="786.1" r="9.3"/><circle cx="469.0" cy="781.4" r="9.3"/><circle cx="471.0" cy="775.9" r="9.3"/><circle cx="473.1" cy="773.2" r="9.3"/><circle cx="475.1" cy="767.4" r="9.3"/><circle cx="477.2" cy="762.6" r="9.3"/><circle cx="479.2" cy="758.8" r="9.3"/><circle cx="481.3" cy="755.5" r="9.3"/><circle cx="483.4" cy="750.8" r="9.3"/><circle cx="485.4" cy="744.9" r="9.3"/><circle cx="487.5" cy="740.2" r="9.3"/><circle cx="490.2" cy="737.9" r="9.3"/><circle cx="492.9" cy="732.9" r="9.3"/><circle cx="495.6" cy="729.1" r="9.3"/><circle cx="498.2" cy="723.5" r="9.3"/><circle cx="500.9" cy="719.3" r="9.3"/><circle cx="503.6" cy="716.7" r="9.3"/><circle cx="506.3" cy="711.9" r="9.3"/><circle cx="509.0" cy="707.0" r="9.3"/><circle cx="511.7" cy="704.8" r="9.3"/><circle cx="514.4" cy="699.9" r="9.3"/><circle cx="517.2" cy="696.1" r="9.3"/><circle cx="519.9" cy="690.1" r="9.3"/><circle cx="522.6" cy="687.7" r="9.3"/><circle cx="525.3" cy="681.6" r="9.3"/><circle cx="528.1" cy="679.3" r="9.3"/><circle cx="530.8" cy="674.1" r="9.3"/><circle cx="533.5" cy="669.6" r="9.3"/><circle cx="536.2" cy="665.8" r="9.3"/><circle cx="538.9" cy="662.3" r="9.3"/><circle cx="541.6" cy="656.3" r="9.3"/><circle cx="544.2" cy="651.6" r="9.3"/><circle cx="546.9" cy="648.2" r="9.3"/><circle cx="549.6" cy="643.1" r="9.3"/><circle cx="552.3" cy="638.4" r="9.3"/><circle cx="555.0" cy="634.2" r="9.3"/><circle cx="557.4" cy="629.5" r="9.3"/><circle cx="559.8" cy="625.5" r="9.3"/><circle cx="562.1" cy="621.4" r="9.3"/><circle cx="564.5" cy="617.0" r="9.3"/><circle cx="566.9" cy="613.7" r="9.3"/><circle cx="569.2" cy="608.2" r="9.3"/><circle cx="571.6" cy="604.4" r="9.3"/><circle cx="574.0" cy="599.2" r="9.3"/><circle cx="576.0" cy="595.3" r="9.3"/><circle cx="578.0" cy="590.1" r="9.3"/><circle cx="580.0" cy="586.3" r="9.3"/><circle cx="582.0" cy="581.3" r="9.3"/><circle cx="584.0" cy="578.7" r="9.3"/><circle cx="586.0" cy="573.9" r="9.3"/><circle cx="588.0" cy="568.6" r="9.3"/><circle cx="590.0" cy="564.9" r="9.3"/><circle cx="592.2" cy="561.2" r="9.3"/><circle cx="594.4" cy="554.5" r="9.3"/><circle cx="596.6" cy="551.4" r="9.3"/><circle cx="598.8" cy="545.6" r="9.3"/><circle cx="601.0" cy="541.0" r="9.3"/><circle cx="605.9" cy="541.9" r="9.3"/><circle cx="610.8" cy="541.0" r="9.3"/><circle cx="615.6" cy="541.4" r="9.3"/><circle cx="620.5" cy="542.0" r="9.3"/><circle cx="625.4" cy="542.8" r="9.3"/><circle cx="630.2" cy="541.4" r="9.3"/><circle cx="635.1" cy="542.7" r="9.3"/><circle cx="640.0" cy="542.5" r="9.3"/><circle cx="645.0" cy="542.4" r="9.3"/><circle cx="650.0" cy="541.9" r="9.3"/><circle cx="655.0" cy="541.9" r="9.3"/><circle cx="660.0" cy="541.3" r="9.3"/><circle cx="665.0" cy="541.5" r="9.3"/><circle cx="670.0" cy="541.5" r="9.3"/><circle cx="675.0" cy="543.2" r="9.3"/><circle cx="680.0" cy="542.1" r="9.3"/><circle cx="685.0" cy="541.9" r="9.3"/><circle cx="690.0" cy="541.8" r="9.3"/><circle cx="695.0" cy="543.7" r="9.3"/><circle cx="700.0" cy="543.9" r="9.3"/><circle cx="705.0" cy="543.5" r="9.3"/><circle cx="710.0" cy="542.6" r="9.3"/><circle cx="715.0" cy="542.6" r="9.3"/><circle cx="720.0" cy="542.8" r="9.3"/><circle cx="725.0" cy="543.2" r="9.3"/><circle cx="730.0" cy="542.6" r="9.3"/><circle cx="735.0" cy="543.3" r="9.3"/><circle cx="740.0" cy="542.9" r="9.3"/><circle cx="745.0" cy="544.7" r="9.3"/><circle cx="750.0" cy="544.8" r="9.3"/><circle cx="755.0" cy="543.8" r="9.3"/><circle cx="760.0" cy="543.1" r="9.3"/><circle cx="765.0" cy="544.9" r="9.3"/><circle cx="770.0" cy="543.4" r="9.3"/><circle cx="775.0" cy="543.6" r="9.3"/><circle cx="780.0" cy="542.8" r="9.3"/><circle cx="785.0" cy="543.8" r="9.3"/><circle cx="790.0" cy="544.2" r="9.3"/><circle cx="795.0" cy="544.4" r="9.3"/><circle cx="800.0" cy="543.8" r="9.3"/><circle cx="805.0" cy="544.7" r="9.3"/><circle cx="810.0" cy="543.6" r="9.3"/><circle cx="815.0" cy="544.4" r="9.3"/><circle cx="820.0" cy="544.1" r="9.3"/><circle cx="825.0" cy="545.0" r="9.3"/><circle cx="830.0" cy="544.2" r="9.3"/><circle cx="835.0" cy="544.3" r="9.3"/><circle cx="840.0" cy="545.1" r="9.3"/><circle cx="845.0" cy="545.1" r="9.3"/><circle cx="850.0" cy="546.1" r="9.3"/><circle cx="855.0" cy="546.0" r="9.3"/><circle cx="858.0" cy="553.0" r="9.3"/><circle cx="855.0" cy="613.0" r="9.3"/><circle cx="866.0" cy="664.0" r="9.3"/><circle cx="872.5" cy="705.0" r="9.3"/><circle cx="878.0" cy="747.0" r="9.3"/><circle cx="884.0" cy="794.0" r="9.3"/><circle cx="890.0" cy="848.0" r="9.3"/><circle cx="896.0" cy="882.1" r="9.3"/><circle cx="898.7" cy="887.6" r="9.3"/><circle cx="901.3" cy="892.4" r="9.3"/><circle cx="904.0" cy="897.5" r="9.3"/><circle cx="908.7" cy="900.9" r="9.3"/><circle cx="913.3" cy="902.7" r="9.3"/><circle cx="918.0" cy="905.6" r="9.3"/><circle cx="923.0" cy="908.4" r="9.3"/><circle cx="928.0" cy="907.7" r="9.3"/><circle cx="933.0" cy="910.3" r="9.3"/><circle cx="938.0" cy="911.0" r="9.3"/><circle cx="940.0" cy="1069.3" r="9.3"/><circle cx="944.7" cy="1068.3" r="9.3"/><circle cx="949.4" cy="1070.7" r="9.3"/><circle cx="954.1" cy="1071.2" r="9.3"/><circle cx="958.9" cy="1071.0" r="9.3"/><circle cx="963.6" cy="1071.7" r="9.3"/><circle cx="968.3" cy="1072.3" r="9.3"/><circle cx="973.0" cy="1071.1" r="9.3"/><circle cx="976.3" cy="1069.1" r="9.3"/><circle cx="979.7" cy="1066.0" r="9.3"/><circle cx="983.0" cy="1063.8" r="9.3"/><circle cx="986.7" cy="1061.1" r="9.3"/><circle cx="990.3" cy="1058.5" r="9.3"/><circle cx="994.0" cy="1055.2" r="9.3"/><circle cx="998.8" cy="1055.4" r="9.3"/><circle cx="1003.7" cy="1054.4" r="9.3"/><circle cx="1008.5" cy="1054.0" r="9.3"/><circle cx="1013.3" cy="1052.4" r="9.3"/><circle cx="1018.2" cy="1051.4" r="9.3"/><circle cx="1023.0" cy="1051.1" r="9.3"/><circle cx="1028.0" cy="1051.0" r="9.3"/><circle cx="1033.0" cy="1049.7" r="9.3"/><circle cx="1038.0" cy="1050.8" r="9.3"/><circle cx="1042.0" cy="1048.1" r="9.3"/><circle cx="1046.0" cy="1046.3" r="9.3"/><circle cx="1050.0" cy="1044.3" r="9.3"/><circle cx="1052.0" cy="1039.4" r="9.3"/><circle cx="1054.0" cy="1034.0" r="9.3"/><circle cx="1056.0" cy="1029.0" r="9.3"/><circle cx="1058.5" cy="985.0" r="9.3"/><circle cx="1062.0" cy="873.0" r="9.3"/><circle cx="1068.5" cy="845.0" r="9.3"/><circle cx="1076.0" cy="826.8" r="9.3"/><circle cx="1078.5" cy="824.0" r="9.3"/><circle cx="1081.0" cy="819.1" r="9.3"/><circle cx="1083.5" cy="813.8" r="9.3"/><circle cx="1086.0" cy="809.1" r="9.3"/><circle cx="1087.9" cy="805.0" r="9.3"/><circle cx="1089.8" cy="799.2" r="9.3"/><circle cx="1091.7" cy="796.4" r="9.3"/><circle cx="1093.6" cy="790.8" r="9.3"/><circle cx="1095.5" cy="786.0" r="9.3"/><circle cx="1097.4" cy="781.4" r="9.3"/><circle cx="1099.3" cy="777.6" r="9.3"/><circle cx="1101.2" cy="771.3" r="9.3"/><circle cx="1103.1" cy="767.6" r="9.3"/><circle cx="1105.0" cy="763.1" r="9.3"/><circle cx="1108.5" cy="758.5" r="9.3"/><circle cx="1112.0" cy="754.7" r="9.3"/><circle cx="1117.0" cy="754.7" r="9.3"/><circle cx="1122.0" cy="755.0" r="9.3"/><circle cx="1127.0" cy="755.0" r="9.3"/><circle cx="1132.0" cy="754.4" r="9.3"/><circle cx="1137.0" cy="754.2" r="9.3"/><circle cx="1142.0" cy="752.7" r="9.3"/><circle cx="1147.0" cy="752.6" r="9.3"/><circle cx="1152.0" cy="752.6" r="9.3"/><circle cx="1157.0" cy="753.6" r="9.3"/><circle cx="1162.0" cy="752.3" r="9.3"/><circle cx="1167.0" cy="752.7" r="9.3"/><circle cx="1172.0" cy="751.2" r="9.3"/><circle cx="1177.0" cy="751.1" r="9.3"/><circle cx="1182.0" cy="751.3" r="9.3"/><circle cx="1187.0" cy="752.1" r="9.3"/><circle cx="1192.0" cy="751.9" r="9.3"/><circle cx="1197.0" cy="751.6" r="9.3"/><circle cx="1202.0" cy="750.5" r="9.3"/><circle cx="1207.0" cy="750.9" r="9.3"/><circle cx="1212.0" cy="750.7" r="9.3"/><circle cx="1217.0" cy="750.6" r="9.3"/><circle cx="1222.0" cy="749.7" r="9.3"/><circle cx="1227.0" cy="751.4" r="9.3"/><circle cx="1232.0" cy="749.6" r="9.3"/><circle cx="1237.0" cy="751.4" r="9.3"/><circle cx="1242.0" cy="751.2" r="9.3"/><circle cx="1247.0" cy="748.9" r="9.3"/><circle cx="1252.0" cy="749.8" r="9.3"/><circle cx="1257.0" cy="750.6" r="9.3"/><circle cx="1262.0" cy="750.9" r="9.3"/><circle cx="1267.0" cy="749.5" r="9.3"/><circle cx="1272.0" cy="749.0" r="9.3"/><circle cx="1277.0" cy="748.7" r="9.3"/><circle cx="1282.0" cy="750.4" r="9.3"/><circle cx="1287.0" cy="748.5" r="9.3"/><circle cx="1292.0" cy="749.3" r="9.3"/><circle cx="1297.0" cy="748.1" r="9.3"/><circle cx="1300.2" cy="745.8" r="9.3"/><circle cx="1303.5" cy="743.6" r="9.3"/><circle cx="1306.8" cy="738.4" r="9.3"/><circle cx="1310.0" cy="736.8" r="9.3"/><circle cx="1312.0" cy="731.7" r="9.3"/><circle cx="1314.0" cy="728.4" r="9.3"/><circle cx="1316.0" cy="723.6" r="9.3"/><circle cx="1318.0" cy="718.2" r="9.3"/><circle cx="1320.0" cy="715.5" r="9.3"/><circle cx="1322.0" cy="710.3" r="9.3"/><circle cx="1324.0" cy="704.9" r="9.3"/><circle cx="1326.6" cy="700.4" r="9.3"/><circle cx="1329.2" cy="697.2" r="9.3"/><circle cx="1331.8" cy="692.7" r="9.3"/><circle cx="1334.4" cy="687.9" r="9.3"/><circle cx="1337.0" cy="683.1" r="9.3"/><circle cx="1340.7" cy="680.1" r="9.3"/><circle cx="1344.3" cy="676.6" r="9.3"/><circle cx="1348.0" cy="674.3" r="9.3"/><circle cx="1351.7" cy="668.8" r="9.3"/><circle cx="1355.3" cy="667.1" r="9.3"/><circle cx="1359.0" cy="663.8" r="9.3"/><circle cx="1363.6" cy="661.2" r="9.3"/><circle cx="1368.1" cy="662.3" r="9.3"/><circle cx="1372.7" cy="660.9" r="9.3"/><circle cx="1377.3" cy="660.5" r="9.3"/><circle cx="1381.9" cy="658.2" r="9.3"/><circle cx="1386.4" cy="657.6" r="9.3"/><circle cx="1391.0" cy="656.7" r="9.3"/><circle cx="1395.9" cy="658.0" r="9.3"/><circle cx="1400.8" cy="656.8" r="9.3"/><circle cx="1405.7" cy="656.1" r="9.3"/><circle cx="1410.6" cy="656.0" r="9.3"/><circle cx="1415.5" cy="655.5" r="9.3"/><circle cx="1420.4" cy="654.7" r="9.3"/><circle cx="1425.3" cy="654.6" r="9.3"/><circle cx="1430.2" cy="656.2" r="9.3"/><circle cx="1435.1" cy="654.7" r="9.3"/><circle cx="1440.0" cy="656.0" r="9.3"/><circle cx="1445.0" cy="654.2" r="9.3"/><circle cx="1450.0" cy="654.1" r="9.3"/><circle cx="1455.0" cy="654.6" r="9.3"/><circle cx="1460.0" cy="653.6" r="9.3"/><circle cx="1465.0" cy="653.9" r="9.3"/><circle cx="1470.0" cy="655.1" r="9.3"/><circle cx="1475.0" cy="654.8" r="9.3"/><circle cx="1480.0" cy="654.5" r="9.3"/><circle cx="1485.0" cy="653.9" r="9.3"/><circle cx="1490.0" cy="654.4" r="9.3"/><circle cx="1495.0" cy="654.3" r="9.3"/><circle cx="1500.0" cy="653.2" r="9.3"/><circle cx="1505.0" cy="653.5" r="9.3"/><circle cx="1510.0" cy="651.7" r="9.3"/><circle cx="1515.0" cy="653.2" r="9.3"/><circle cx="1520.0" cy="652.4" r="9.3"/><circle cx="1525.0" cy="652.9" r="9.3"/><circle cx="1530.0" cy="652.5" r="9.3"/><circle cx="1535.0" cy="651.5" r="9.3"/><circle cx="1538.2" cy="647.7" r="9.3"/><circle cx="1541.4" cy="646.6" r="9.3"/><circle cx="1544.6" cy="641.5" r="9.3"/><circle cx="1547.8" cy="639.1" r="9.3"/><circle cx="1551.0" cy="635.6" r="9.3"/><circle cx="1554.1" cy="631.7" r="9.3"/><circle cx="1557.3" cy="628.9" r="9.3"/><circle cx="1560.4" cy="625.6" r="9.3"/><circle cx="1563.6" cy="620.0" r="9.3"/><circle cx="1566.7" cy="617.1" r="9.3"/><circle cx="1569.9" cy="612.4" r="9.3"/><circle cx="1573.0" cy="609.1" r="9.3"/><circle cx="1576.1" cy="605.3" r="9.3"/><circle cx="1579.3" cy="601.3" r="9.3"/><circle cx="1582.4" cy="597.9" r="9.3"/><circle cx="1585.6" cy="594.6" r="9.3"/><circle cx="1588.7" cy="592.8" r="9.3"/><circle cx="1591.9" cy="588.4" r="9.3"/><circle cx="1595.0" cy="584.3" r="9.3"/><circle cx="1600.0" cy="583.5" r="9.3"/><circle cx="1605.0" cy="581.2" r="9.3"/><circle cx="1610.1" cy="579.7" r="9.3"/><circle cx="1615.2" cy="578.8" r="9.3"/><circle cx="1620.3" cy="578.8" r="9.3"/><circle cx="1625.4" cy="578.4" r="9.3"/><circle cx="1630.6" cy="578.8" r="9.3"/><circle cx="1635.7" cy="578.0" r="9.3"/><circle cx="1640.8" cy="578.2" r="9.3"/><circle cx="1645.9" cy="578.1" r="9.3"/><circle cx="1651.0" cy="578.7" r="9.3"/><circle cx="1656.1" cy="579.3" r="9.3"/><circle cx="1661.2" cy="578.8" r="9.3"/><circle cx="1666.3" cy="577.8" r="9.3"/><circle cx="1671.4" cy="577.6" r="9.3"/><circle cx="1676.6" cy="577.7" r="9.3"/><circle cx="1681.7" cy="577.2" r="9.3"/><circle cx="1686.8" cy="576.9" r="9.3"/><circle cx="1691.9" cy="576.1" r="9.3"/><circle cx="1697.0" cy="576.5" r="9.3"/><circle cx="1702.1" cy="578.3" r="9.3"/><circle cx="1707.1" cy="576.4" r="9.3"/><circle cx="1712.2" cy="577.4" r="9.3"/><circle cx="1717.3" cy="577.8" r="9.3"/><circle cx="1722.3" cy="578.5" r="9.3"/><circle cx="1727.4" cy="577.1" r="9.3"/><circle cx="1732.5" cy="577.4" r="9.3"/><circle cx="1737.5" cy="577.5" r="9.3"/><circle cx="1742.6" cy="578.0" r="9.3"/><circle cx="1747.7" cy="578.2" r="9.3"/><circle cx="1752.7" cy="579.6" r="9.3"/><circle cx="1757.8" cy="579.4" r="9.3"/><circle cx="1762.9" cy="579.6" r="9.3"/><circle cx="1767.9" cy="577.7" r="9.3"/><circle cx="1773.0" cy="579.0" r="9.3"/><circle cx="1777.0" cy="588.0" r="9.3"/><circle cx="1781.5" cy="721.5" r="9.3"/><circle cx="1791.0" cy="830.0" r="9.3"/><circle cx="1796.0" cy="932.0" r="9.3"/><circle cx="1802.0" cy="988.0" r="9.3"/><circle cx="1808.5" cy="1009.0" r="9.3"/></g><clipPath id="mk"><circle cx="340.5" cy="1135.9" r="9.3"/><circle cx="345.6" cy="1136.2" r="9.3"/><circle cx="350.6" cy="1134.6" r="9.3"/><circle cx="355.7" cy="1136.5" r="9.3"/><circle cx="360.8" cy="1135.3" r="9.3"/><circle cx="365.8" cy="1135.6" r="9.3"/><circle cx="370.9" cy="1136.9" r="9.3"/><circle cx="375.9" cy="1136.7" r="9.3"/><circle cx="381.0" cy="1136.0" r="9.3"/><circle cx="389.0" cy="1126.2" r="9.3"/><circle cx="391.8" cy="1123.1" r="9.3"/><circle cx="394.5" cy="1119.5" r="9.3"/><circle cx="397.2" cy="1115.4" r="9.3"/><circle cx="400.0" cy="1111.3" r="9.3"/><circle cx="402.6" cy="1107.2" r="9.3"/><circle cx="405.2" cy="1103.7" r="9.3"/><circle cx="407.8" cy="1097.6" r="9.3"/><circle cx="410.4" cy="1094.5" r="9.3"/><circle cx="413.0" cy="1089.9" r="9.3"/><circle cx="415.7" cy="1084.2" r="9.3"/><circle cx="418.3" cy="1080.3" r="9.3"/><circle cx="421.0" cy="1076.3" r="9.3"/><circle cx="422.7" cy="1071.2" r="9.3"/><circle cx="424.4" cy="1065.4" r="9.3"/><circle cx="426.1" cy="1062.8" r="9.3"/><circle cx="427.8" cy="1057.5" r="9.3"/><circle cx="429.5" cy="1052.0" r="9.3"/><circle cx="436.5" cy="1017.0" r="9.3"/><circle cx="442.0" cy="931.0" r="9.3"/><circle cx="447.0" cy="853.0" r="9.3"/><circle cx="453.0" cy="826.0" r="9.3"/><circle cx="459.0" cy="809.0" r="9.3"/><circle cx="465.0" cy="793.1" r="9.3"/><circle cx="467.0" cy="786.1" r="9.3"/><circle cx="469.0" cy="781.4" r="9.3"/><circle cx="471.0" cy="775.9" r="9.3"/><circle cx="473.1" cy="773.2" r="9.3"/><circle cx="475.1" cy="767.4" r="9.3"/><circle cx="477.2" cy="762.6" r="9.3"/><circle cx="479.2" cy="758.8" r="9.3"/><circle cx="481.3" cy="755.5" r="9.3"/><circle cx="483.4" cy="750.8" r="9.3"/><circle cx="485.4" cy="744.9" r="9.3"/><circle cx="487.5" cy="740.2" r="9.3"/><circle cx="490.2" cy="737.9" r="9.3"/><circle cx="492.9" cy="732.9" r="9.3"/><circle cx="495.6" cy="729.1" r="9.3"/><circle cx="498.2" cy="723.5" r="9.3"/><circle cx="500.9" cy="719.3" r="9.3"/><circle cx="503.6" cy="716.7" r="9.3"/><circle cx="506.3" cy="711.9" r="9.3"/><circle cx="509.0" cy="707.0" r="9.3"/><circle cx="511.7" cy="704.8" r="9.3"/><circle cx="514.4" cy="699.9" r="9.3"/><circle cx="517.2" cy="696.1" r="9.3"/><circle cx="519.9" cy="690.1" r="9.3"/><circle cx="522.6" cy="687.7" r="9.3"/><circle cx="525.3" cy="681.6" r="9.3"/><circle cx="528.1" cy="679.3" r="9.3"/><circle cx="530.8" cy="674.1" r="9.3"/><circle cx="533.5" cy="669.6" r="9.3"/><circle cx="536.2" cy="665.8" r="9.3"/><circle cx="538.9" cy="662.3" r="9.3"/><circle cx="541.6" cy="656.3" r="9.3"/><circle cx="544.2" cy="651.6" r="9.3"/><circle cx="546.9" cy="648.2" r="9.3"/><circle cx="549.6" cy="643.1" r="9.3"/><circle cx="552.3" cy="638.4" r="9.3"/><circle cx="555.0" cy="634.2" r="9.3"/><circle cx="557.4" cy="629.5" r="9.3"/><circle cx="559.8" cy="625.5" r="9.3"/><circle cx="562.1" cy="621.4" r="9.3"/><circle cx="564.5" cy="617.0" r="9.3"/><circle cx="566.9" cy="613.7" r="9.3"/><circle cx="569.2" cy="608.2" r="9.3"/><circle cx="571.6" cy="604.4" r="9.3"/><circle cx="574.0" cy="599.2" r="9.3"/><circle cx="576.0" cy="595.3" r="9.3"/><circle cx="578.0" cy="590.1" r="9.3"/><circle cx="580.0" cy="586.3" r="9.3"/><circle cx="582.0" cy="581.3" r="9.3"/><circle cx="584.0" cy="578.7" r="9.3"/><circle cx="586.0" cy="573.9" r="9.3"/><circle cx="588.0" cy="568.6" r="9.3"/><circle cx="590.0" cy="564.9" r="9.3"/><circle cx="592.2" cy="561.2" r="9.3"/><circle cx="594.4" cy="554.5" r="9.3"/><circle cx="596.6" cy="551.4" r="9.3"/><circle cx="598.8" cy="545.6" r="9.3"/><circle cx="601.0" cy="541.0" r="9.3"/><circle cx="605.9" cy="541.9" r="9.3"/><circle cx="610.8" cy="541.0" r="9.3"/><circle cx="615.6" cy="541.4" r="9.3"/><circle cx="620.5" cy="542.0" r="9.3"/><circle cx="625.4" cy="542.8" r="9.3"/><circle cx="630.2" cy="541.4" r="9.3"/><circle cx="635.1" cy="542.7" r="9.3"/><circle cx="640.0" cy="542.5" r="9.3"/><circle cx="645.0" cy="542.4" r="9.3"/><circle cx="650.0" cy="541.9" r="9.3"/><circle cx="655.0" cy="541.9" r="9.3"/><circle cx="660.0" cy="541.3" r="9.3"/><circle cx="665.0" cy="541.5" r="9.3"/><circle cx="670.0" cy="541.5" r="9.3"/><circle cx="675.0" cy="543.2" r="9.3"/><circle cx="680.0" cy="542.1" r="9.3"/><circle cx="685.0" cy="541.9" r="9.3"/><circle cx="690.0" cy="541.8" r="9.3"/><circle cx="695.0" cy="543.7" r="9.3"/><circle cx="700.0" cy="543.9" r="9.3"/><circle cx="705.0" cy="543.5" r="9.3"/><circle cx="710.0" cy="542.6" r="9.3"/><circle cx="715.0" cy="542.6" r="9.3"/><circle cx="720.0" cy="542.8" r="9.3"/><circle cx="725.0" cy="543.2" r="9.3"/><circle cx="730.0" cy="542.6" r="9.3"/><circle cx="735.0" cy="543.3" r="9.3"/><circle cx="740.0" cy="542.9" r="9.3"/><circle cx="745.0" cy="544.7" r="9.3"/><circle cx="750.0" cy="544.8" r="9.3"/><circle cx="755.0" cy="543.8" r="9.3"/><circle cx="760.0" cy="543.1" r="9.3"/><circle cx="765.0" cy="544.9" r="9.3"/><circle cx="770.0" cy="543.4" r="9.3"/><circle cx="775.0" cy="543.6" r="9.3"/><circle cx="780.0" cy="542.8" r="9.3"/><circle cx="785.0" cy="543.8" r="9.3"/><circle cx="790.0" cy="544.2" r="9.3"/><circle cx="795.0" cy="544.4" r="9.3"/><circle cx="800.0" cy="543.8" r="9.3"/><circle cx="805.0" cy="544.7" r="9.3"/><circle cx="810.0" cy="543.6" r="9.3"/><circle cx="815.0" cy="544.4" r="9.3"/><circle cx="820.0" cy="544.1" r="9.3"/><circle cx="825.0" cy="545.0" r="9.3"/><circle cx="830.0" cy="544.2" r="9.3"/><circle cx="835.0" cy="544.3" r="9.3"/><circle cx="840.0" cy="545.1" r="9.3"/><circle cx="845.0" cy="545.1" r="9.3"/><circle cx="850.0" cy="546.1" r="9.3"/><circle cx="855.0" cy="546.0" r="9.3"/><circle cx="858.0" cy="553.0" r="9.3"/><circle cx="855.0" cy="613.0" r="9.3"/><circle cx="866.0" cy="664.0" r="9.3"/><circle cx="872.5" cy="705.0" r="9.3"/><circle cx="878.0" cy="747.0" r="9.3"/><circle cx="884.0" cy="794.0" r="9.3"/><circle cx="890.0" cy="848.0" r="9.3"/><circle cx="896.0" cy="882.1" r="9.3"/><circle cx="898.7" cy="887.6" r="9.3"/><circle cx="901.3" cy="892.4" r="9.3"/><circle cx="904.0" cy="897.5" r="9.3"/><circle cx="908.7" cy="900.9" r="9.3"/><circle cx="913.3" cy="902.7" r="9.3"/><circle cx="918.0" cy="905.6" r="9.3"/><circle cx="923.0" cy="908.4" r="9.3"/><circle cx="928.0" cy="907.7" r="9.3"/><circle cx="933.0" cy="910.3" r="9.3"/><circle cx="938.0" cy="911.0" r="9.3"/><circle cx="940.0" cy="1069.3" r="9.3"/><circle cx="944.7" cy="1068.3" r="9.3"/><circle cx="949.4" cy="1070.7" r="9.3"/><circle cx="954.1" cy="1071.2" r="9.3"/><circle cx="958.9" cy="1071.0" r="9.3"/><circle cx="963.6" cy="1071.7" r="9.3"/><circle cx="968.3" cy="1072.3" r="9.3"/><circle cx="973.0" cy="1071.1" r="9.3"/><circle cx="976.3" cy="1069.1" r="9.3"/><circle cx="979.7" cy="1066.0" r="9.3"/><circle cx="983.0" cy="1063.8" r="9.3"/><circle cx="986.7" cy="1061.1" r="9.3"/><circle cx="990.3" cy="1058.5" r="9.3"/><circle cx="994.0" cy="1055.2" r="9.3"/><circle cx="998.8" cy="1055.4" r="9.3"/><circle cx="1003.7" cy="1054.4" r="9.3"/><circle cx="1008.5" cy="1054.0" r="9.3"/><circle cx="1013.3" cy="1052.4" r="9.3"/><circle cx="1018.2" cy="1051.4" r="9.3"/><circle cx="1023.0" cy="1051.1" r="9.3"/><circle cx="1028.0" cy="1051.0" r="9.3"/><circle cx="1033.0" cy="1049.7" r="9.3"/><circle cx="1038.0" cy="1050.8" r="9.3"/><circle cx="1042.0" cy="1048.1" r="9.3"/><circle cx="1046.0" cy="1046.3" r="9.3"/><circle cx="1050.0" cy="1044.3" r="9.3"/><circle cx="1052.0" cy="1039.4" r="9.3"/><circle cx="1054.0" cy="1034.0" r="9.3"/><circle cx="1056.0" cy="1029.0" r="9.3"/><circle cx="1058.5" cy="985.0" r="9.3"/><circle cx="1062.0" cy="873.0" r="9.3"/><circle cx="1068.5" cy="845.0" r="9.3"/><circle cx="1076.0" cy="826.8" r="9.3"/><circle cx="1078.5" cy="824.0" r="9.3"/><circle cx="1081.0" cy="819.1" r="9.3"/><circle cx="1083.5" cy="813.8" r="9.3"/><circle cx="1086.0" cy="809.1" r="9.3"/><circle cx="1087.9" cy="805.0" r="9.3"/><circle cx="1089.8" cy="799.2" r="9.3"/><circle cx="1091.7" cy="796.4" r="9.3"/><circle cx="1093.6" cy="790.8" r="9.3"/><circle cx="1095.5" cy="786.0" r="9.3"/><circle cx="1097.4" cy="781.4" r="9.3"/><circle cx="1099.3" cy="777.6" r="9.3"/><circle cx="1101.2" cy="771.3" r="9.3"/><circle cx="1103.1" cy="767.6" r="9.3"/><circle cx="1105.0" cy="763.1" r="9.3"/><circle cx="1108.5" cy="758.5" r="9.3"/><circle cx="1112.0" cy="754.7" r="9.3"/><circle cx="1117.0" cy="754.7" r="9.3"/><circle cx="1122.0" cy="755.0" r="9.3"/><circle cx="1127.0" cy="755.0" r="9.3"/><circle cx="1132.0" cy="754.4" r="9.3"/><circle cx="1137.0" cy="754.2" r="9.3"/><circle cx="1142.0" cy="752.7" r="9.3"/><circle cx="1147.0" cy="752.6" r="9.3"/><circle cx="1152.0" cy="752.6" r="9.3"/><circle cx="1157.0" cy="753.6" r="9.3"/><circle cx="1162.0" cy="752.3" r="9.3"/><circle cx="1167.0" cy="752.7" r="9.3"/><circle cx="1172.0" cy="751.2" r="9.3"/><circle cx="1177.0" cy="751.1" r="9.3"/><circle cx="1182.0" cy="751.3" r="9.3"/><circle cx="1187.0" cy="752.1" r="9.3"/><circle cx="1192.0" cy="751.9" r="9.3"/><circle cx="1197.0" cy="751.6" r="9.3"/><circle cx="1202.0" cy="750.5" r="9.3"/><circle cx="1207.0" cy="750.9" r="9.3"/><circle cx="1212.0" cy="750.7" r="9.3"/><circle cx="1217.0" cy="750.6" r="9.3"/><circle cx="1222.0" cy="749.7" r="9.3"/><circle cx="1227.0" cy="751.4" r="9.3"/><circle cx="1232.0" cy="749.6" r="9.3"/><circle cx="1237.0" cy="751.4" r="9.3"/><circle cx="1242.0" cy="751.2" r="9.3"/><circle cx="1247.0" cy="748.9" r="9.3"/><circle cx="1252.0" cy="749.8" r="9.3"/><circle cx="1257.0" cy="750.6" r="9.3"/><circle cx="1262.0" cy="750.9" r="9.3"/><circle cx="1267.0" cy="749.5" r="9.3"/><circle cx="1272.0" cy="749.0" r="9.3"/><circle cx="1277.0" cy="748.7" r="9.3"/><circle cx="1282.0" cy="750.4" r="9.3"/><circle cx="1287.0" cy="748.5" r="9.3"/><circle cx="1292.0" cy="749.3" r="9.3"/><circle cx="1297.0" cy="748.1" r="9.3"/><circle cx="1300.2" cy="745.8" r="9.3"/><circle cx="1303.5" cy="743.6" r="9.3"/><circle cx="1306.8" cy="738.4" r="9.3"/><circle cx="1310.0" cy="736.8" r="9.3"/><circle cx="1312.0" cy="731.7" r="9.3"/><circle cx="1314.0" cy="728.4" r="9.3"/><circle cx="1316.0" cy="723.6" r="9.3"/><circle cx="1318.0" cy="718.2" r="9.3"/><circle cx="1320.0" cy="715.5" r="9.3"/><circle cx="1322.0" cy="710.3" r="9.3"/><circle cx="1324.0" cy="704.9" r="9.3"/><circle cx="1326.6" cy="700.4" r="9.3"/><circle cx="1329.2" cy="697.2" r="9.3"/><circle cx="1331.8" cy="692.7" r="9.3"/><circle cx="1334.4" cy="687.9" r="9.3"/><circle cx="1337.0" cy="683.1" r="9.3"/><circle cx="1340.7" cy="680.1" r="9.3"/><circle cx="1344.3" cy="676.6" r="9.3"/><circle cx="1348.0" cy="674.3" r="9.3"/><circle cx="1351.7" cy="668.8" r="9.3"/><circle cx="1355.3" cy="667.1" r="9.3"/><circle cx="1359.0" cy="663.8" r="9.3"/><circle cx="1363.6" cy="661.2" r="9.3"/><circle cx="1368.1" cy="662.3" r="9.3"/><circle cx="1372.7" cy="660.9" r="9.3"/><circle cx="1377.3" cy="660.5" r="9.3"/><circle cx="1381.9" cy="658.2" r="9.3"/><circle cx="1386.4" cy="657.6" r="9.3"/><circle cx="1391.0" cy="656.7" r="9.3"/><circle cx="1395.9" cy="658.0" r="9.3"/><circle cx="1400.8" cy="656.8" r="9.3"/><circle cx="1405.7" cy="656.1" r="9.3"/><circle cx="1410.6" cy="656.0" r="9.3"/><circle cx="1415.5" cy="655.5" r="9.3"/><circle cx="1420.4" cy="654.7" r="9.3"/><circle cx="1425.3" cy="654.6" r="9.3"/><circle cx="1430.2" cy="656.2" r="9.3"/><circle cx="1435.1" cy="654.7" r="9.3"/><circle cx="1440.0" cy="656.0" r="9.3"/><circle cx="1445.0" cy="654.2" r="9.3"/><circle cx="1450.0" cy="654.1" r="9.3"/><circle cx="1455.0" cy="654.6" r="9.3"/><circle cx="1460.0" cy="653.6" r="9.3"/><circle cx="1465.0" cy="653.9" r="9.3"/><circle cx="1470.0" cy="655.1" r="9.3"/><circle cx="1475.0" cy="654.8" r="9.3"/><circle cx="1480.0" cy="654.5" r="9.3"/><circle cx="1485.0" cy="653.9" r="9.3"/><circle cx="1490.0" cy="654.4" r="9.3"/><circle cx="1495.0" cy="654.3" r="9.3"/><circle cx="1500.0" cy="653.2" r="9.3"/><circle cx="1505.0" cy="653.5" r="9.3"/><circle cx="1510.0" cy="651.7" r="9.3"/><circle cx="1515.0" cy="653.2" r="9.3"/><circle cx="1520.0" cy="652.4" r="9.3"/><circle cx="1525.0" cy="652.9" r="9.3"/><circle cx="1530.0" cy="652.5" r="9.3"/><circle cx="1535.0" cy="651.5" r="9.3"/><circle cx="1538.2" cy="647.7" r="9.3"/><circle cx="1541.4" cy="646.6" r="9.3"/><circle cx="1544.6" cy="641.5" r="9.3"/><circle cx="1547.8" cy="639.1" r="9.3"/><circle cx="1551.0" cy="635.6" r="9.3"/><circle cx="1554.1" cy="631.7" r="9.3"/><circle cx="1557.3" cy="628.9" r="9.3"/><circle cx="1560.4" cy="625.6" r="9.3"/><circle cx="1563.6" cy="620.0" r="9.3"/><circle cx="1566.7" cy="617.1" r="9.3"/><circle cx="1569.9" cy="612.4" r="9.3"/><circle cx="1573.0" cy="609.1" r="9.3"/><circle cx="1576.1" cy="605.3" r="9.3"/><circle cx="1579.3" cy="601.3" r="9.3"/><circle cx="1582.4" cy="597.9" r="9.3"/><circle cx="1585.6" cy="594.6" r="9.3"/><circle cx="1588.7" cy="592.8" r="9.3"/><circle cx="1591.9" cy="588.4" r="9.3"/><circle cx="1595.0" cy="584.3" r="9.3"/><circle cx="1600.0" cy="583.5" r="9.3"/><circle cx="1605.0" cy="581.2" r="9.3"/><circle cx="1610.1" cy="579.7" r="9.3"/><circle cx="1615.2" cy="578.8" r="9.3"/><circle cx="1620.3" cy="578.8" r="9.3"/><circle cx="1625.4" cy="578.4" r="9.3"/><circle cx="1630.6" cy="578.8" r="9.3"/><circle cx="1635.7" cy="578.0" r="9.3"/><circle cx="1640.8" cy="578.2" r="9.3"/><circle cx="1645.9" cy="578.1" r="9.3"/><circle cx="1651.0" cy="578.7" r="9.3"/><circle cx="1656.1" cy="579.3" r="9.3"/><circle cx="1661.2" cy="578.8" r="9.3"/><circle cx="1666.3" cy="577.8" r="9.3"/><circle cx="1671.4" cy="577.6" r="9.3"/><circle cx="1676.6" cy="577.7" r="9.3"/><circle cx="1681.7" cy="577.2" r="9.3"/><circle cx="1686.8" cy="576.9" r="9.3"/><circle cx="1691.9" cy="576.1" r="9.3"/><circle cx="1697.0" cy="576.5" r="9.3"/><circle cx="1702.1" cy="578.3" r="9.3"/><circle cx="1707.1" cy="576.4" r="9.3"/><circle cx="1712.2" cy="577.4" r="9.3"/><circle cx="1717.3" cy="577.8" r="9.3"/><circle cx="1722.3" cy="578.5" r="9.3"/><circle cx="1727.4" cy="577.1" r="9.3"/><circle cx="1732.5" cy="577.4" r="9.3"/><circle cx="1737.5" cy="577.5" r="9.3"/><circle cx="1742.6" cy="578.0" r="9.3"/><circle cx="1747.7" cy="578.2" r="9.3"/><circle cx="1752.7" cy="579.6" r="9.3"/><circle cx="1757.8" cy="579.4" r="9.3"/><circle cx="1762.9" cy="579.6" r="9.3"/><circle cx="1767.9" cy="577.7" r="9.3"/><circle cx="1773.0" cy="579.0" r="9.3"/><circle cx="1777.0" cy="588.0" r="9.3"/><circle cx="1781.5" cy="721.5" r="9.3"/><circle cx="1791.0" cy="830.0" r="9.3"/><circle cx="1796.0" cy="932.0" r="9.3"/><circle cx="1802.0" cy="988.0" r="9.3"/><circle cx="1808.5" cy="1009.0" r="9.3"/><rect x="332.0" y="1212.1" width="17" height="17"/><rect x="337.2" y="1211.7" width="17" height="17"/><rect x="342.4" y="1212.9" width="17" height="17"/><rect x="347.6" y="1211.5" width="17" height="17"/><rect x="352.8" y="1212.6" width="17" height="17"/><rect x="357.9" y="1212.2" width="17" height="17"/><rect x="363.1" y="1211.4" width="17" height="17"/><rect x="368.3" y="1212.5" width="17" height="17"/><rect x="373.5" y="1212.5" width="17" height="17"/><rect x="379.5" y="1203.5" width="17" height="17"/><rect x="385.5" y="1192.5" width="17" height="17"/><rect x="391.5" y="1188.5" width="17" height="17"/><rect x="397.5" y="1184.5" width="17" height="17"/><rect x="403.5" y="1179.5" width="17" height="17"/><rect x="408.5" y="1175.5" width="17" height="17"/><rect x="412.5" y="1168.5" width="17" height="17"/><rect x="419.0" y="1145.5" width="17" height="17"/><rect x="426.5" y="904.5" width="17" height="17"/><rect x="433.0" y="786.5" width="17" height="17"/><rect x="438.5" y="713.5" width="17" height="17"/><rect x="445.5" y="656.5" width="17" height="17"/><rect x="452.0" y="608.5" width="17" height="17"/><rect x="457.5" y="559.5" width="17" height="17"/><rect x="462.5" y="516.5" width="17" height="17"/><rect x="468.5" y="483.5" width="17" height="17"/><rect x="473.5" y="455.5" width="17" height="17"/><rect x="479.5" y="439.5" width="17" height="17"/><rect x="485.5" y="426.5" width="17" height="17"/><rect x="491.5" y="416.4" width="17" height="17"/><rect x="494.5" y="414.3" width="17" height="17"/><rect x="497.5" y="410.5" width="17" height="17"/><rect x="500.5" y="407.5" width="17" height="17"/><rect x="503.7" y="404.7" width="17" height="17"/><rect x="506.9" y="402.1" width="17" height="17"/><rect x="510.1" y="396.8" width="17" height="17"/><rect x="513.3" y="393.4" width="17" height="17"/><rect x="516.5" y="390.8" width="17" height="17"/><rect x="519.2" y="387.6" width="17" height="17"/><rect x="522.0" y="382.7" width="17" height="17"/><rect x="524.8" y="378.3" width="17" height="17"/><rect x="527.5" y="375.6" width="17" height="17"/><rect x="529.5" y="368.7" width="17" height="17"/><rect x="531.5" y="365.9" width="17" height="17"/><rect x="533.5" y="359.7" width="17" height="17"/><rect x="535.5" y="354.6" width="17" height="17"/><rect x="537.1" y="350.2" width="17" height="17"/><rect x="538.7" y="346.2" width="17" height="17"/><rect x="540.3" y="343.1" width="17" height="17"/><rect x="541.9" y="337.1" width="17" height="17"/><rect x="543.5" y="333.7" width="17" height="17"/><rect x="545.0" y="329.1" width="17" height="17"/><rect x="546.5" y="323.7" width="17" height="17"/><rect x="548.0" y="319.4" width="17" height="17"/><rect x="549.5" y="313.5" width="17" height="17"/><rect x="551.2" y="308.1" width="17" height="17"/><rect x="552.8" y="303.1" width="17" height="17"/><rect x="554.5" y="298.9" width="17" height="17"/><rect x="555.8" y="293.7" width="17" height="17"/><rect x="557.2" y="288.7" width="17" height="17"/><rect x="558.5" y="284.7" width="17" height="17"/><rect x="560.0" y="279.9" width="17" height="17"/><rect x="561.5" y="275.0" width="17" height="17"/><rect x="563.0" y="271.7" width="17" height="17"/><rect x="564.5" y="267.0" width="17" height="17"/><rect x="566.0" y="261.1" width="17" height="17"/><rect x="567.5" y="257.2" width="17" height="17"/><rect x="569.0" y="252.3" width="17" height="17"/><rect x="570.5" y="248.4" width="17" height="17"/><rect x="572.3" y="243.7" width="17" height="17"/><rect x="574.1" y="238.2" width="17" height="17"/><rect x="575.9" y="235.5" width="17" height="17"/><rect x="577.7" y="229.0" width="17" height="17"/><rect x="579.5" y="225.3" width="17" height="17"/><rect x="581.5" y="221.1" width="17" height="17"/><rect x="583.5" y="214.7" width="17" height="17"/><rect x="585.5" y="210.5" width="17" height="17"/><rect x="587.5" y="204.4" width="17" height="17"/><rect x="590.5" y="201.9" width="17" height="17"/><rect x="593.5" y="198.1" width="17" height="17"/><rect x="598.5" y="197.2" width="17" height="17"/><rect x="603.5" y="197.4" width="17" height="17"/><rect x="608.0" y="196.6" width="17" height="17"/><rect x="612.5" y="198.0" width="17" height="17"/><rect x="617.0" y="198.2" width="17" height="17"/><rect x="621.5" y="198.7" width="17" height="17"/><rect x="626.5" y="200.4" width="17" height="17"/><rect x="631.5" y="203.3" width="17" height="17"/><rect x="636.5" y="205.6" width="17" height="17"/><rect x="641.5" y="204.6" width="17" height="17"/><rect x="646.5" y="205.3" width="17" height="17"/><rect x="651.5" y="204.0" width="17" height="17"/><rect x="656.5" y="205.7" width="17" height="17"/><rect x="661.5" y="205.8" width="17" height="17"/><rect x="666.5" y="206.8" width="17" height="17"/><rect x="671.5" y="206.5" width="17" height="17"/><rect x="676.5" y="205.4" width="17" height="17"/><rect x="681.5" y="205.9" width="17" height="17"/><rect x="686.5" y="206.7" width="17" height="17"/><rect x="691.5" y="205.4" width="17" height="17"/><rect x="696.7" y="206.9" width="17" height="17"/><rect x="701.8" y="206.7" width="17" height="17"/><rect x="707.0" y="207.1" width="17" height="17"/><rect x="712.2" y="207.4" width="17" height="17"/><rect x="717.3" y="209.6" width="17" height="17"/><rect x="722.5" y="208.6" width="17" height="17"/><rect x="727.3" y="208.6" width="17" height="17"/><rect x="732.2" y="208.6" width="17" height="17"/><rect x="737.0" y="209.4" width="17" height="17"/><rect x="741.8" y="207.2" width="17" height="17"/><rect x="746.7" y="207.7" width="17" height="17"/><rect x="751.5" y="207.6" width="17" height="17"/><rect x="756.5" y="208.1" width="17" height="17"/><rect x="761.5" y="207.6" width="17" height="17"/><rect x="766.5" y="207.4" width="17" height="17"/><rect x="771.5" y="205.6" width="17" height="17"/><rect x="776.5" y="205.6" width="17" height="17"/><rect x="781.5" y="205.2" width="17" height="17"/><rect x="786.5" y="206.8" width="17" height="17"/><rect x="791.5" y="207.3" width="17" height="17"/><rect x="796.5" y="205.7" width="17" height="17"/><rect x="801.5" y="206.1" width="17" height="17"/><rect x="806.5" y="206.5" width="17" height="17"/><rect x="811.5" y="206.9" width="17" height="17"/><rect x="816.8" y="207.8" width="17" height="17"/><rect x="822.2" y="208.4" width="17" height="17"/><rect x="827.5" y="207.9" width="17" height="17"/><rect x="832.8" y="207.6" width="17" height="17"/><rect x="838.2" y="209.0" width="17" height="17"/><rect x="843.5" y="209.5" width="17" height="17"/><rect x="847.5" y="214.5" width="17" height="17"/><rect x="850.5" y="284.5" width="17" height="17"/><rect x="855.5" y="343.5" width="17" height="17"/><rect x="860.5" y="396.5" width="17" height="17"/><rect x="866.5" y="447.5" width="17" height="17"/><rect x="872.5" y="505.5" width="17" height="17"/><rect x="877.5" y="557.5" width="17" height="17"/><rect x="881.5" y="587.5" width="17" height="17"/><rect x="884.5" y="598.2" width="17" height="17"/><rect x="888.0" y="603.2" width="17" height="17"/><rect x="891.5" y="608.6" width="17" height="17"/><rect x="896.5" y="611.0" width="17" height="17"/><rect x="901.5" y="613.5" width="17" height="17"/><rect x="907.0" y="615.8" width="17" height="17"/><rect x="912.5" y="617.9" width="17" height="17"/><rect x="917.0" y="617.9" width="17" height="17"/><rect x="921.5" y="621.5" width="17" height="17"/><rect x="926.5" y="621.7" width="17" height="17"/><rect x="931.5" y="621.5" width="17" height="17"/><rect x="934.5" y="883.4" width="17" height="17"/><rect x="939.2" y="884.5" width="17" height="17"/><rect x="943.8" y="884.9" width="17" height="17"/><rect x="948.5" y="886.3" width="17" height="17"/><rect x="951.5" y="888.5" width="17" height="17"/><rect x="954.5" y="892.8" width="17" height="17"/><rect x="957.5" y="894.4" width="17" height="17"/><rect x="962.0" y="896.5" width="17" height="17"/><rect x="966.5" y="898.8" width="17" height="17"/><rect x="972.0" y="899.2" width="17" height="17"/><rect x="977.5" y="900.1" width="17" height="17"/><rect x="982.5" y="899.4" width="17" height="17"/><rect x="987.5" y="900.5" width="17" height="17"/><rect x="991.0" y="920.5" width="17" height="17"/><rect x="994.0" y="949.5" width="17" height="17"/><rect x="1000.0" y="985.5" width="17" height="17"/><rect x="1006.5" y="1018.5" width="17" height="17"/><rect x="1021.5" y="1064.5" width="17" height="17"/><rect x="1034.5" y="981.5" width="17" height="17"/><rect x="1042.5" y="763.5" width="17" height="17"/><rect x="1047.5" y="597.5" width="17" height="17"/><rect x="1054.0" y="545.5" width="17" height="17"/><rect x="1059.0" y="518.5" width="17" height="17"/><rect x="1063.5" y="498.5" width="17" height="17"/><rect x="1068.5" y="483.5" width="17" height="17"/><rect x="1074.5" y="466.3" width="17" height="17"/><rect x="1076.1" y="461.7" width="17" height="17"/><rect x="1077.6" y="456.5" width="17" height="17"/><rect x="1079.2" y="452.2" width="17" height="17"/><rect x="1080.8" y="446.4" width="17" height="17"/><rect x="1082.4" y="443.4" width="17" height="17"/><rect x="1083.9" y="437.8" width="17" height="17"/><rect x="1085.5" y="431.7" width="17" height="17"/><rect x="1087.1" y="426.9" width="17" height="17"/><rect x="1088.7" y="422.1" width="17" height="17"/><rect x="1090.3" y="417.2" width="17" height="17"/><rect x="1091.9" y="411.6" width="17" height="17"/><rect x="1093.5" y="408.3" width="17" height="17"/><rect x="1097.5" y="406.2" width="17" height="17"/><rect x="1101.5" y="402.4" width="17" height="17"/><rect x="1106.5" y="402.2" width="17" height="17"/><rect x="1111.5" y="400.9" width="17" height="17"/><rect x="1116.5" y="400.6" width="17" height="17"/><rect x="1121.5" y="400.9" width="17" height="17"/><rect x="1126.5" y="400.4" width="17" height="17"/><rect x="1131.5" y="401.4" width="17" height="17"/><rect x="1136.5" y="399.5" width="17" height="17"/><rect x="1141.5" y="398.9" width="17" height="17"/><rect x="1146.5" y="400.8" width="17" height="17"/><rect x="1151.5" y="399.5" width="17" height="17"/><rect x="1156.5" y="398.3" width="17" height="17"/><rect x="1161.5" y="398.9" width="17" height="17"/><rect x="1166.5" y="397.4" width="17" height="17"/><rect x="1171.4" y="398.5" width="17" height="17"/><rect x="1176.3" y="399.5" width="17" height="17"/><rect x="1181.3" y="399.1" width="17" height="17"/><rect x="1186.2" y="398.7" width="17" height="17"/><rect x="1191.1" y="397.5" width="17" height="17"/><rect x="1196.0" y="397.7" width="17" height="17"/><rect x="1201.0" y="397.2" width="17" height="17"/><rect x="1205.9" y="398.5" width="17" height="17"/><rect x="1210.8" y="397.9" width="17" height="17"/><rect x="1215.7" y="398.4" width="17" height="17"/><rect x="1220.7" y="397.2" width="17" height="17"/><rect x="1225.6" y="396.9" width="17" height="17"/><rect x="1230.5" y="398.2" width="17" height="17"/><rect x="1235.4" y="398.6" width="17" height="17"/><rect x="1240.3" y="398.2" width="17" height="17"/><rect x="1245.3" y="398.0" width="17" height="17"/><rect x="1250.2" y="398.0" width="17" height="17"/><rect x="1255.1" y="397.7" width="17" height="17"/><rect x="1260.0" y="396.4" width="17" height="17"/><rect x="1265.0" y="397.0" width="17" height="17"/><rect x="1269.9" y="396.5" width="17" height="17"/><rect x="1274.8" y="395.7" width="17" height="17"/><rect x="1279.7" y="395.6" width="17" height="17"/><rect x="1284.7" y="396.1" width="17" height="17"/><rect x="1289.6" y="396.0" width="17" height="17"/><rect x="1294.5" y="397.0" width="17" height="17"/><rect x="1297.9" y="393.8" width="17" height="17"/><rect x="1301.2" y="388.9" width="17" height="17"/><rect x="1304.6" y="386.3" width="17" height="17"/><rect x="1308.0" y="382.7" width="17" height="17"/><rect x="1311.4" y="378.8" width="17" height="17"/><rect x="1314.8" y="373.7" width="17" height="17"/><rect x="1318.1" y="369.6" width="17" height="17"/><rect x="1321.5" y="365.8" width="17" height="17"/><rect x="1324.7" y="362.1" width="17" height="17"/><rect x="1327.9" y="358.5" width="17" height="17"/><rect x="1331.2" y="355.8" width="17" height="17"/><rect x="1334.4" y="352.8" width="17" height="17"/><rect x="1337.6" y="349.0" width="17" height="17"/><rect x="1340.8" y="344.5" width="17" height="17"/><rect x="1344.1" y="341.2" width="17" height="17"/><rect x="1347.3" y="337.9" width="17" height="17"/><rect x="1350.5" y="332.5" width="17" height="17"/><rect x="1355.6" y="333.2" width="17" height="17"/><rect x="1360.7" y="333.2" width="17" height="17"/><rect x="1365.8" y="332.2" width="17" height="17"/><rect x="1370.9" y="331.4" width="17" height="17"/><rect x="1376.1" y="330.1" width="17" height="17"/><rect x="1381.2" y="328.7" width="17" height="17"/><rect x="1386.3" y="329.5" width="17" height="17"/><rect x="1391.4" y="327.8" width="17" height="17"/><rect x="1396.5" y="328.2" width="17" height="17"/><rect x="1401.3" y="328.3" width="17" height="17"/><rect x="1406.1" y="326.7" width="17" height="17"/><rect x="1410.9" y="326.4" width="17" height="17"/><rect x="1415.7" y="327.4" width="17" height="17"/><rect x="1420.5" y="326.5" width="17" height="17"/><rect x="1425.3" y="324.9" width="17" height="17"/><rect x="1430.1" y="324.5" width="17" height="17"/><rect x="1434.9" y="324.3" width="17" height="17"/><rect x="1439.7" y="325.8" width="17" height="17"/><rect x="1444.5" y="325.2" width="17" height="17"/><rect x="1449.4" y="323.4" width="17" height="17"/><rect x="1454.3" y="324.8" width="17" height="17"/><rect x="1459.2" y="325.0" width="17" height="17"/><rect x="1464.1" y="324.0" width="17" height="17"/><rect x="1468.9" y="323.0" width="17" height="17"/><rect x="1473.8" y="323.3" width="17" height="17"/><rect x="1478.7" y="322.1" width="17" height="17"/><rect x="1483.6" y="321.6" width="17" height="17"/><rect x="1488.5" y="323.6" width="17" height="17"/><rect x="1493.4" y="322.6" width="17" height="17"/><rect x="1498.3" y="322.1" width="17" height="17"/><rect x="1503.2" y="322.9" width="17" height="17"/><rect x="1508.1" y="321.5" width="17" height="17"/><rect x="1512.9" y="322.3" width="17" height="17"/><rect x="1517.8" y="321.9" width="17" height="17"/><rect x="1522.7" y="320.3" width="17" height="17"/><rect x="1527.6" y="320.1" width="17" height="17"/><rect x="1532.5" y="320.0" width="17" height="17"/><rect x="1536.0" y="316.5" width="17" height="17"/><rect x="1539.5" y="314.0" width="17" height="17"/><rect x="1543.0" y="309.9" width="17" height="17"/><rect x="1546.5" y="307.0" width="17" height="17"/><rect x="1550.0" y="302.9" width="17" height="17"/><rect x="1553.5" y="301.5" width="17" height="17"/><rect x="1556.7" y="296.0" width="17" height="17"/><rect x="1559.9" y="292.2" width="17" height="17"/><rect x="1563.1" y="288.4" width="17" height="17"/><rect x="1566.3" y="285.1" width="17" height="17"/><rect x="1569.5" y="279.8" width="17" height="17"/><rect x="1572.7" y="276.9" width="17" height="17"/><rect x="1575.9" y="271.8" width="17" height="17"/><rect x="1579.1" y="267.8" width="17" height="17"/><rect x="1582.3" y="263.7" width="17" height="17"/><rect x="1585.5" y="258.3" width="17" height="17"/><rect x="1590.7" y="258.6" width="17" height="17"/><rect x="1595.9" y="257.1" width="17" height="17"/><rect x="1601.1" y="255.9" width="17" height="17"/><rect x="1606.3" y="257.0" width="17" height="17"/><rect x="1611.5" y="254.7" width="17" height="17"/><rect x="1616.5" y="255.0" width="17" height="17"/><rect x="1621.5" y="255.2" width="17" height="17"/><rect x="1626.5" y="254.4" width="17" height="17"/><rect x="1631.5" y="253.5" width="17" height="17"/><rect x="1636.5" y="253.5" width="17" height="17"/><rect x="1641.5" y="253.2" width="17" height="17"/><rect x="1646.5" y="253.4" width="17" height="17"/><rect x="1651.5" y="251.4" width="17" height="17"/><rect x="1656.5" y="252.0" width="17" height="17"/><rect x="1661.5" y="250.9" width="17" height="17"/><rect x="1666.5" y="251.0" width="17" height="17"/><rect x="1671.6" y="252.2" width="17" height="17"/><rect x="1676.6" y="251.7" width="17" height="17"/><rect x="1681.7" y="251.8" width="17" height="17"/><rect x="1686.7" y="252.4" width="17" height="17"/><rect x="1691.8" y="252.8" width="17" height="17"/><rect x="1696.8" y="251.7" width="17" height="17"/><rect x="1701.9" y="252.2" width="17" height="17"/><rect x="1706.9" y="251.9" width="17" height="17"/><rect x="1712.0" y="252.0" width="17" height="17"/><rect x="1717.0" y="252.5" width="17" height="17"/><rect x="1722.1" y="252.0" width="17" height="17"/><rect x="1727.1" y="252.2" width="17" height="17"/><rect x="1732.2" y="252.1" width="17" height="17"/><rect x="1737.2" y="253.3" width="17" height="17"/><rect x="1742.3" y="252.7" width="17" height="17"/><rect x="1747.3" y="253.2" width="17" height="17"/><rect x="1752.4" y="253.4" width="17" height="17"/><rect x="1757.4" y="251.8" width="17" height="17"/><rect x="1762.5" y="252.6" width="17" height="17"/><rect x="1767.5" y="252.5" width="17" height="17"/><rect x="1769.5" y="213.5" width="17" height="17"/><rect x="1780.5" y="295.5" width="17" height="17"/><rect x="1784.0" y="406.5" width="17" height="17"/><rect x="1788.5" y="513.5" width="17" height="17"/><rect x="1793.5" y="567.5" width="17" height="17"/><rect x="1798.5" y="584.6" width="17" height="17"/><rect x="1800.8" y="588.6" width="17" height="17"/><rect x="1803.2" y="591.3" width="17" height="17"/><rect x="1805.5" y="595.6" width="17" height="17"/><rect x="1809.0" y="600.9" width="17" height="17"/><rect x="1812.5" y="604.5" width="17" height="17"/><rect x="1817.0" y="608.4" width="17" height="17"/><rect x="1821.5" y="611.5" width="17" height="17"/><rect x="1825.2" y="614.9" width="17" height="17"/><rect x="1828.8" y="617.2" width="17" height="17"/><rect x="1832.5" y="619.5" width="17" height="17"/><rect x="1836.5" y="619.3" width="17" height="17"/><rect x="1840.5" y="622.4" width="17" height="17"/><rect x="1844.5" y="623.9" width="17" height="17"/><rect x="1850.0" y="625.1" width="17" height="17"/><rect x="1855.5" y="628.5" width="17" height="17"/></clipPath><g clip-path="url(#mk)" fill="none" stroke="#1a1c5a" stroke-width="5.8" stroke-linecap="round" stroke-linejoin="round"><polyline points="344.6,1309.5 370.5,1310.6"/><polyline points="393.1,1271.9 394.6,1265.0 399.3,1240.5"/><polyline points="411.0,1187.0 418.7,1158.1"/><polyline points="430.2,1108.0 437.5,1078.9"/><polyline points="449.8,1029.2 456.4,999.8"/><polyline points="468.5,950.0 474.4,920.4"/><polyline points="488.3,871.3 495.6,842.2"/><polyline points="508.1,792.5 509.0,789.0 515.3,763.4"/><polyline points="527.5,713.6 534.4,684.3"/><polyline points="545.1,634.0 548.0,617.0 551.4,604.5"/><polyline points="563.8,554.8 566.0,545.0 570.7,525.5"/><polyline points="583.1,475.8 590.0,450.0 590.7,446.8"/><polyline points="605.6,398.8 630.3,395.1"/><polyline points="671.0,405.7 695.4,400.0"/><polyline points="737.6,396.8 762.4,398.6"/><polyline points="804.8,399.6 829.6,397.5"/><polyline points="853.8,431.0 855.2,460.9"/><polyline points="857.4,512.1 858.5,542.0"/><polyline points="860.3,593.2 860.5,600.0 862.8,623.0"/><polyline points="867.2,673.9 869.1,703.8"/><polyline points="871.7,754.9 872.8,784.8"/><polyline points="875.0,836.0 876.5,865.9"/><polyline points="879.0,917.0 880.5,946.9"/><polyline points="882.8,998.1 883.9,1028.0"/><polyline points="887.2,1079.0 887.9,1109.0"/><polyline points="891.6,1160.0 894.5,1190.3"/><polyline points="900.4,1241.9 909.3,1270.4"/><polyline points="939.7,1306.0 965.3,1315.3"/><polyline points="991.0,1273.9 994.8,1243.6"/><polyline points="1004.2,1192.7 1009.0,1162.7"/><polyline points="1024.6,1114.2 1032.5,1085.2"/><polyline points="1045.2,1035.4 1052.8,1006.3"/><polyline points="1064.2,956.0 1072.4,927.1"/><polyline points="1083.3,876.6 1085.7,865.0 1090.2,847.2"/><polyline points="1102.0,797.0 1110.0,768.1"/><polyline points="1151.0,767.9 1175.2,772.2"/><polyline points="1216.5,769.2 1240.9,772.0"/><polyline points="1282.4,768.0 1303.9,753.5"/><polyline points="1317.0,705.3 1318.0,698.0 1322.8,675.6"/><polyline points="1334.2,625.4 1337.0,614.0 1342.0,596.4"/><polyline points="1357.2,547.8 1361.6,535.7 1369.1,521.2"/><polyline points="1410.1,520.5 1432.0,525.4 1434.2,525.1"/><polyline points="1475.7,520.0 1500.6,520.0"/><polyline points="1541.0,515.7 1543.0,514.6 1550.8,487.9"/><polyline points="1563.0,437.0 1569.9,407.9"/><polyline points="1580.5,357.8 1587.1,328.5"/><polyline points="1599.4,279.0 1619.0,273.4 1619.1,273.4"/><polyline points="1651.0,284.7 1675.9,273.9"/><polyline points="1720.3,281.0 1745.4,284.2"/><polyline points="1778.4,294.0 1778.5,324.0"/><polyline points="1781.2,375.2 1782.4,395.7 1782.7,405.1"/><polyline points="1784.3,456.3 1785.0,476.8 1785.3,486.3"/><polyline points="1787.1,537.6 1788.1,567.5"/><polyline points="1789.1,618.8 1789.3,648.8"/><polyline points="1790.2,700.1 1791.1,730.1"/><polyline points="1792.6,781.3 1792.6,782.0 1793.1,811.3"/><polyline points="1794.0,862.6 1794.7,892.6"/><polyline points="1795.9,943.8 1796.0,950.0 1797.0,973.8"/><polyline points="1799.0,1025.0 1799.0,1055.3"/><polyline points="1802.0,1106.8 1802.0,1137.1"/><polyline points="1804.8,1188.6 1810.2,1217.8"/><polyline points="1823.6,1264.0 1848.0,1288.5"/></g><g clip-path="url(#mk)" fill="#1a1c5a"><circle cx="386.5" cy="1298.4" r="3.2"/><circle cx="404.5" cy="1213.5" r="3.2"/><circle cx="425.0" cy="1133.2" r="3.2"/><circle cx="442.7" cy="1053.7" r="3.2"/><circle cx="463.3" cy="975.3" r="3.2"/><circle cx="481.8" cy="896.1" r="3.2"/><circle cx="501.8" cy="817.4" r="3.2"/><circle cx="521.4" cy="738.5" r="3.2"/><circle cx="540.3" cy="659.3" r="3.2"/><circle cx="558.0" cy="579.9" r="3.2"/><circle cx="576.6" cy="500.6" r="3.2"/><circle cx="596.4" cy="421.8" r="3.2"/><circle cx="651.3" cy="397.5" r="3.2"/><circle cx="716.6" cy="398.8" r="3.2"/><circle cx="783.6" cy="399.5" r="3.2"/><circle cx="849.2" cy="405.5" r="3.2"/><circle cx="856.4" cy="486.5" r="3.2"/><circle cx="859.4" cy="567.6" r="3.2"/><circle cx="865.4" cy="648.4" r="3.2"/><circle cx="870.6" cy="729.3" r="3.2"/><circle cx="873.8" cy="810.4" r="3.2"/><circle cx="877.7" cy="891.5" r="3.2"/><circle cx="881.7" cy="972.5" r="3.2"/><circle cx="886.2" cy="1053.5" r="3.2"/><circle cx="889.8" cy="1134.5" r="3.2"/><circle cx="896.4" cy="1216.3" r="3.2"/><circle cx="924.8" cy="1287.8" r="3.2"/><circle cx="981.4" cy="1299.7" r="3.2"/><circle cx="1000.4" cy="1218.5" r="3.2"/><circle cx="1017.3" cy="1138.7" r="3.2"/><circle cx="1039.5" cy="1060.6" r="3.2"/><circle cx="1058.9" cy="981.3" r="3.2"/><circle cx="1078.0" cy="901.9" r="3.2"/><circle cx="1095.9" cy="822.0" r="3.2"/><circle cx="1130.1" cy="769.4" r="3.2"/><circle cx="1195.7" cy="768.5" r="3.2"/><circle cx="1261.7" cy="770.9" r="3.2"/><circle cx="1313.0" cy="730.8" r="3.2"/><circle cx="1328.2" cy="650.4" r="3.2"/><circle cx="1349.0" cy="571.8" r="3.2"/><circle cx="1389.2" cy="519.5" r="3.2"/><circle cx="1454.9" cy="521.7" r="3.2"/><circle cx="1521.3" cy="525.3" r="3.2"/><circle cx="1556.3" cy="462.2" r="3.2"/><circle cx="1575.5" cy="382.9" r="3.2"/><circle cx="1593.5" cy="303.9" r="3.2"/><circle cx="1636.3" cy="274.0" r="3.2"/><circle cx="1698.2" cy="275.7" r="3.2"/><circle cx="1765.8" cy="277.0" r="3.2"/><circle cx="1779.7" cy="349.6" r="3.2"/><circle cx="1783.5" cy="430.7" r="3.2"/><circle cx="1786.2" cy="511.9" r="3.2"/><circle cx="1788.9" cy="593.2" r="3.2"/><circle cx="1789.5" cy="674.4" r="3.2"/><circle cx="1791.8" cy="755.7" r="3.2"/><circle cx="1793.6" cy="836.9" r="3.2"/><circle cx="1795.3" cy="918.2" r="3.2"/><circle cx="1798.0" cy="999.4" r="3.2"/><circle cx="1799.9" cy="1081.1" r="3.2"/><circle cx="1802.7" cy="1162.9" r="3.2"/><circle cx="1815.0" cy="1242.7" r="3.2"/></g><circle cx="328.6" cy="1037.2" r="2.6" fill="#d0d3c6"/><rect x="991" y="882.5" width="43.5" height="392" fill="none" stroke="#ee3535" stroke-width="3.5"/><line x1="343" y1="392.3" x2="499" y2="392.3" stroke="#f7b070" stroke-width="3.6"/><polygon points="325,392.3 345,384 345,400.6" fill="#ff8000"/><line x1="343" y1="741" x2="467" y2="741" stroke="#8f8f30" stroke-width="3.6"/><polygon points="324,741 344,732.7 344,749.3" fill="#707000"/><line x1="1817" y1="1175" x2="1945" y2="1175" stroke="#1c1cd0" stroke-width="4"/><polygon points="1978,1175 1938,1164.5 1938,1185.5" fill="#1c1cd0"/><polyline points="1983.5,31.6 311.3,31.6 311.3,1380.5 1983.5,1380.5" fill="none" stroke="#303030" stroke-width="5.6" stroke-linejoin="round"/><line x1="1983.6" y1="29.5" x2="1983.6" y2="1383" stroke="#2424e0" stroke-width="4.6"/><line x1="283" y1="1296.5" x2="312" y2="1296.5" stroke="#222" stroke-width="4.4"/><line x1="297" y1="1127.9" x2="312" y2="1127.9" stroke="#222" stroke-width="4.4"/><line x1="283" y1="959.2" x2="312" y2="959.2" stroke="#222" stroke-width="4.4"/><line x1="297" y1="790.6" x2="312" y2="790.6" stroke="#222" stroke-width="4.4"/><line x1="283" y1="621.9" x2="312" y2="621.9" stroke="#222" stroke-width="4.4"/><line x1="297" y1="453.3" x2="312" y2="453.3" stroke="#222" stroke-width="4.4"/><line x1="283" y1="284.6" x2="312" y2="284.6" stroke="#222" stroke-width="4.4"/><line x1="340.5" y1="1380" x2="340.5" y2="1409" stroke="#222" stroke-width="4.4"/><line x1="489.9" y1="1380" x2="489.9" y2="1395" stroke="#222" stroke-width="4.4"/><line x1="639.2" y1="1380" x2="639.2" y2="1409" stroke="#222" stroke-width="4.4"/><line x1="788.5" y1="1380" x2="788.5" y2="1395" stroke="#222" stroke-width="4.4"/><line x1="937.9" y1="1380" x2="937.9" y2="1409" stroke="#222" stroke-width="4.4"/><line x1="1087.2" y1="1380" x2="1087.2" y2="1395" stroke="#222" stroke-width="4.4"/><line x1="1236.6" y1="1380" x2="1236.6" y2="1409" stroke="#222" stroke-width="4.4"/><line x1="1386.0" y1="1380" x2="1386.0" y2="1395" stroke="#222" stroke-width="4.4"/><line x1="1535.3" y1="1380" x2="1535.3" y2="1409" stroke="#222" stroke-width="4.4"/><line x1="1684.7" y1="1380" x2="1684.7" y2="1395" stroke="#222" stroke-width="4.4"/><line x1="1834.0" y1="1380" x2="1834.0" y2="1409" stroke="#222" stroke-width="4.4"/><line x1="1983.4" y1="1380" x2="1983.4" y2="1395" stroke="#222" stroke-width="4.4"/><line x1="1983" y1="1380.8" x2="2010" y2="1380.8" stroke="#2424e0" stroke-width="4.2"/><line x1="1983" y1="1258.1" x2="1997" y2="1258.1" stroke="#2424e0" stroke-width="4.2"/><line x1="1983" y1="1135.4" x2="2010" y2="1135.4" stroke="#2424e0" stroke-width="4.2"/><line x1="1983" y1="1012.7" x2="1997" y2="1012.7" stroke="#2424e0" stroke-width="4.2"/><line x1="1983" y1="890.0" x2="2010" y2="890.0" stroke="#2424e0" stroke-width="4.2"/><line x1="1983" y1="767.3" x2="1997" y2="767.3" stroke="#2424e0" stroke-width="4.2"/><line x1="1983" y1="644.7" x2="2010" y2="644.7" stroke="#2424e0" stroke-width="4.2"/><line x1="1983" y1="522.0" x2="1997" y2="522.0" stroke="#2424e0" stroke-width="4.2"/><line x1="1983" y1="399.3" x2="2010" y2="399.3" stroke="#2424e0" stroke-width="4.2"/><line x1="1983" y1="276.6" x2="1997" y2="276.6" stroke="#2424e0" stroke-width="4.2"/><line x1="1983" y1="153.9" x2="2010" y2="153.9" stroke="#2424e0" stroke-width="4.2"/><line x1="1983" y1="31.2" x2="1997" y2="31.2" stroke="#2424e0" stroke-width="4.2"/><g font-family='"Liberation Sans", Arial, sans-serif' font-size="58" fill="#1e1e1e" text-anchor="end"><text x="266.4" y="1313.1">5.40</text><text x="266.4" y="975.8">5.42</text><text x="266.4" y="638.5">5.44</text><text x="266.4" y="301.2">5.46</text></g><g font-family='"Liberation Sans", Arial, sans-serif' font-size="58" fill="#1e1e1e" text-anchor="middle"><text x="340.5" y="1469.5">0</text><text x="639.2" y="1469.5">50</text><text x="937.9" y="1469.5">100</text><text x="1236.6" y="1469.5">150</text><text x="1535.3" y="1469.5">200</text><text x="1834.0" y="1469.5">250</text></g><g font-family='"Liberation Sans", Arial, sans-serif' font-size="58" fill="#2c2cd0" text-anchor="start"><text x="2026.8" y="1397.3">0</text><text x="2026.8" y="1151.9">100</text><text x="2026.8" y="906.5">200</text><text x="2026.8" y="661.2">300</text><text x="2026.8" y="415.8">400</text><text x="2026.8" y="170.4">500</text></g><text x="939.5" y="1590.5" font-family='"Liberation Sans", Arial, sans-serif' font-size="82" font-weight="bold" fill="#000">Time (min)</text><text transform="translate(88,1083.5) rotate(-90)" font-family='"Liberation Sans", Arial, sans-serif' font-size="82" font-weight="bold" fill="#000">Lattice constant (<tspan font-weight="normal" font-style="italic" font-size="68">Å</tspan>)</text><text transform="translate(2165.5,422.5) rotate(90)" font-family='"Liberation Sans", Arial, sans-serif' font-size="70.5" font-weight="bold" fill="#1414d2">Temperature <tspan font-weight="normal">(°</tspan>C<tspan font-weight="normal">)</tspan></text><text x="490" y="110.5" font-family='"Liberation Sans", Arial, sans-serif' font-size="48.5" fill="#333" font-weight="normal"><tspan>H</tspan><tspan font-size="28.1" dy="16.5">2</tspan><tspan dy="-16.5">&#160;reduction</tspan></text><text x="876.5" y="135.3" font-family='"Liberation Sans", Arial, sans-serif' font-size="45" fill="#333" font-weight="normal"><tspan>H</tspan><tspan font-size="28.4" dy="18.0">2</tspan></text><text x="1117.5" y="111.5" font-family='"Liberation Sans", Arial, sans-serif' font-size="48" fill="#333" font-weight="normal"><tspan>CO</tspan><tspan font-size="27.8" dy="16.3">2</tspan><tspan dy="-16.3">+H</tspan><tspan font-size="27.8" dy="16.3">2</tspan><tspan dy="-16.3">&#160;&#160;reaction&#160;condition</tspan></text><text font-family='"Liberation Sans", Arial, sans-serif' font-size="40.5" fill="#333"><tspan x="882.5" y="273.5">cool</tspan><tspan x="882.5" y="324">down</tspan></text><text font-family='"Liberation Sans", Arial, sans-serif' font-size="40.5" fill="#333"><tspan x="1791" y="100.8">cool</tspan><tspan x="1791" y="151">down</tspan></text><text x="611.5" y="293.5" font-family='"Liberation Sans", Arial, sans-serif' font-size="41.1" fill="#f38a30" font-weight="bold" letter-spacing="-0.8"><tspan>Cu/CeO</tspan><tspan font-size="21.4" dy="13.2">2</tspan><tspan dy="-13.2">-NR</tspan></text><text x="605.8" y="626.3" font-family='"Liberation Sans", Arial, sans-serif' font-size="43.6" fill="#80801e" font-weight="bold" letter-spacing="-2.3"><tspan>Cu/CeO</tspan><tspan font-size="21.8" dy="13.5">2</tspan><tspan dy="-13.5">-NS</tspan></text></svg>
</body></html>
